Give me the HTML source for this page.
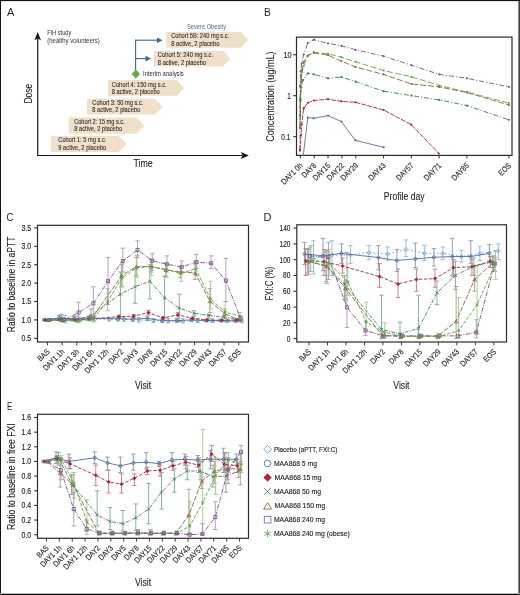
<!DOCTYPE html><html><head><meta charset="utf-8"><style>html,body{margin:0;padding:0;background:#fff;}svg{display:block;will-change:transform;}</style></head><body><svg width="520" height="595" viewBox="0 0 520 595" font-family='"Liberation Sans", sans-serif'>
<rect x="0" y="0" width="520" height="595" fill="#ffffff"/>
<text x="7.00" y="16.10" font-size="11" fill="#262626" >A</text>
<line x1="37.70" y1="155.50" x2="37.70" y2="38.00" stroke="#1a1a1a" stroke-width="1.2" />
<polygon points="37.70,32.00 41.00,40.20 37.70,38.60 34.40,40.20" fill="#1a1a1a" stroke="none" stroke-width="1" />
<line x1="37.10" y1="155.50" x2="242.50" y2="155.50" stroke="#1a1a1a" stroke-width="1.2" />
<polygon points="248.80,155.50 240.90,152.10 242.50,155.50 240.90,158.90" fill="#1a1a1a" stroke="none" stroke-width="1" />
<text x="32.20" y="103.60" font-size="10" fill="#262626" textLength="19.80" lengthAdjust="spacingAndGlyphs" transform="rotate(-90 32.20 103.60)" stroke="#262626" stroke-width="0.1">Dose</text>
<text x="133.40" y="166.90" font-size="10" fill="#262626" textLength="19.30" lengthAdjust="spacingAndGlyphs" stroke="#262626" stroke-width="0.1">Time</text>
<text x="47.30" y="34.70" font-size="6.9" fill="#333333" textLength="24.00" lengthAdjust="spacingAndGlyphs" >FiH study</text>
<text x="47.30" y="42.60" font-size="6.9" fill="#333333" textLength="52.40" lengthAdjust="spacingAndGlyphs" >(healthy volunteers)</text>
<polygon points="51.00,136.00 118.50,136.00 127.00,144.00 118.50,152.00 51.00,152.00" fill="#f1e0c9" stroke="none" stroke-width="1" />
<text x="58.30" y="142.40" font-size="6.8" fill="#303030" textLength="48.00" lengthAdjust="spacingAndGlyphs" stroke="#262626" stroke-width="0.1">Cohort 1: 5 mg s.c.</text>
<text x="58.30" y="149.60" font-size="6.8" fill="#303030" textLength="48.00" lengthAdjust="spacingAndGlyphs" stroke="#262626" stroke-width="0.1">9 active, 2 placebo</text>
<polygon points="68.60,117.60 136.80,117.60 144.30,125.70 136.80,133.80 68.60,133.80" fill="#f1e0c9" stroke="none" stroke-width="1" />
<text x="74.20" y="124.00" font-size="6.8" fill="#303030" textLength="50.50" lengthAdjust="spacingAndGlyphs" stroke="#262626" stroke-width="0.1">Cohort 2: 15 mg s.c.</text>
<text x="74.20" y="131.20" font-size="6.8" fill="#303030" textLength="48.00" lengthAdjust="spacingAndGlyphs" stroke="#262626" stroke-width="0.1">8 active, 2 placebo</text>
<polygon points="87.00,98.80 154.60,98.80 162.70,106.70 154.60,114.60 87.00,114.60" fill="#f1e0c9" stroke="none" stroke-width="1" />
<text x="92.30" y="105.20" font-size="6.8" fill="#303030" textLength="51.00" lengthAdjust="spacingAndGlyphs" stroke="#262626" stroke-width="0.1">Cohort 3: 50 mg s.c.</text>
<text x="92.30" y="112.40" font-size="6.8" fill="#303030" textLength="48.00" lengthAdjust="spacingAndGlyphs" stroke="#262626" stroke-width="0.1">8 active, 2 placebo</text>
<polygon points="108.00,80.10 176.70,80.10 184.20,87.90 176.70,95.70 108.00,95.70" fill="#f1e0c9" stroke="none" stroke-width="1" />
<text x="111.80" y="86.50" font-size="6.8" fill="#303030" textLength="54.80" lengthAdjust="spacingAndGlyphs" stroke="#262626" stroke-width="0.1">Cohort 4: 150 mg s.c.</text>
<text x="111.80" y="93.70" font-size="6.8" fill="#303030" textLength="48.00" lengthAdjust="spacingAndGlyphs" stroke="#262626" stroke-width="0.1">8 active, 2 placebo</text>
<polygon points="154.00,51.00 223.00,51.00 230.20,58.80 223.00,66.60 154.00,66.60" fill="#f1e0c9" stroke="none" stroke-width="1" />
<text x="157.80" y="57.40" font-size="6.8" fill="#303030" textLength="55.30" lengthAdjust="spacingAndGlyphs" stroke="#262626" stroke-width="0.1">Cohort 5: 240 mg s.c.</text>
<text x="157.80" y="64.60" font-size="6.8" fill="#303030" textLength="48.30" lengthAdjust="spacingAndGlyphs" stroke="#262626" stroke-width="0.1">8 active, 2 placebo</text>
<polygon points="166.20,32.00 241.00,32.00 248.20,39.85 241.00,47.70 166.20,47.70" fill="#f1e0c9" stroke="none" stroke-width="1" />
<text x="171.20" y="38.40" font-size="6.8" fill="#303030" textLength="58.00" lengthAdjust="spacingAndGlyphs" stroke="#262626" stroke-width="0.1">Cohort 5B: 240 mg s.c.</text>
<text x="171.20" y="45.60" font-size="6.8" fill="#303030" textLength="48.30" lengthAdjust="spacingAndGlyphs" stroke="#262626" stroke-width="0.1">8 active, 2 placebo</text>
<line x1="135.60" y1="70.00" x2="135.60" y2="39.70" stroke="#45638f" stroke-width="1.1" />
<line x1="135.00" y1="40.20" x2="157.50" y2="40.20" stroke="#45638f" stroke-width="1.1" />
<polygon points="162.60,40.20 157.00,37.40 157.00,43.00" fill="#45638f" stroke="none" stroke-width="1" />
<line x1="135.00" y1="58.60" x2="146.00" y2="58.60" stroke="#45638f" stroke-width="1.1" />
<polygon points="151.00,58.60 145.50,55.80 145.50,61.40" fill="#45638f" stroke="none" stroke-width="1" />
<polygon points="135.80,69.20 140.00,74.00 135.80,78.80 131.60,74.00" fill="#6aa84f" stroke="none" stroke-width="1" />
<text x="143.00" y="76.00" font-size="6.9" fill="#2e2e2e" textLength="40.80" lengthAdjust="spacingAndGlyphs" >Interim analysis</text>
<text x="187.00" y="29.20" font-size="6.9" fill="#4f6a96" textLength="39.00" lengthAdjust="spacingAndGlyphs" >Severe Obesity</text>
<text x="264.00" y="16.40" font-size="11" fill="#262626" textLength="6.80" lengthAdjust="spacingAndGlyphs" >B</text>
<rect x="296.5" y="37.1" width="215.5" height="118.30000000000001" fill="none" stroke="#2b2b2b" stroke-width="1.2"/>
<line x1="293.20" y1="54.70" x2="296.50" y2="54.70" stroke="#2b2b2b" stroke-width="1.1" />
<text x="291.60" y="57.50" font-size="8.4" fill="#262626" text-anchor="end" textLength="8.20" lengthAdjust="spacingAndGlyphs" stroke="#262626" stroke-width="0.15">10</text>
<line x1="293.20" y1="95.70" x2="296.50" y2="95.70" stroke="#2b2b2b" stroke-width="1.1" />
<text x="290.90" y="98.50" font-size="8.4" fill="#262626" text-anchor="end" textLength="3.60" lengthAdjust="spacingAndGlyphs" stroke="#262626" stroke-width="0.15">1</text>
<line x1="293.20" y1="136.70" x2="296.50" y2="136.70" stroke="#2b2b2b" stroke-width="1.1" />
<text x="290.30" y="139.50" font-size="8.4" fill="#262626" text-anchor="end" textLength="9.00" lengthAdjust="spacingAndGlyphs" stroke="#262626" stroke-width="0.15">0.1</text>
<text x="274.30" y="96.60" font-size="10" fill="#262626" text-anchor="middle" textLength="90.50" lengthAdjust="spacingAndGlyphs" transform="rotate(-90 274.30 96.60)" stroke="#262626" stroke-width="0.1">Concentration (ug/mL)</text>
<line x1="300.30" y1="155.40" x2="300.30" y2="158.40" stroke="#2b2b2b" stroke-width="1.0" />
<line x1="314.18" y1="155.40" x2="314.18" y2="158.40" stroke="#2b2b2b" stroke-width="1.0" />
<line x1="328.06" y1="155.40" x2="328.06" y2="158.40" stroke="#2b2b2b" stroke-width="1.0" />
<line x1="341.94" y1="155.40" x2="341.94" y2="158.40" stroke="#2b2b2b" stroke-width="1.0" />
<line x1="355.82" y1="155.40" x2="355.82" y2="158.40" stroke="#2b2b2b" stroke-width="1.0" />
<line x1="383.59" y1="155.40" x2="383.59" y2="158.40" stroke="#2b2b2b" stroke-width="1.0" />
<line x1="411.35" y1="155.40" x2="411.35" y2="158.40" stroke="#2b2b2b" stroke-width="1.0" />
<line x1="439.11" y1="155.40" x2="439.11" y2="158.40" stroke="#2b2b2b" stroke-width="1.0" />
<line x1="466.87" y1="155.40" x2="466.87" y2="158.40" stroke="#2b2b2b" stroke-width="1.0" />
<line x1="508.91" y1="155.40" x2="508.91" y2="158.40" stroke="#2b2b2b" stroke-width="1.0" />
<text x="303.10" y="166.20" font-size="8.0" fill="#262626" text-anchor="end" textLength="26.55" lengthAdjust="spacingAndGlyphs" transform="rotate(-45 303.10 166.20)" stroke="#262626" stroke-width="0.15">DAY1 0h</text>
<text x="316.98" y="166.20" font-size="8.0" fill="#262626" text-anchor="end" textLength="17.16" lengthAdjust="spacingAndGlyphs" transform="rotate(-45 316.98 166.20)" stroke="#262626" stroke-width="0.15">DAY8</text>
<text x="330.86" y="166.20" font-size="8.0" fill="#262626" text-anchor="end" textLength="20.92" lengthAdjust="spacingAndGlyphs" transform="rotate(-45 330.86 166.20)" stroke="#262626" stroke-width="0.15">DAY15</text>
<text x="344.74" y="166.20" font-size="8.0" fill="#262626" text-anchor="end" textLength="20.92" lengthAdjust="spacingAndGlyphs" transform="rotate(-45 344.74 166.20)" stroke="#262626" stroke-width="0.15">DAY22</text>
<text x="358.62" y="166.20" font-size="8.0" fill="#262626" text-anchor="end" textLength="20.92" lengthAdjust="spacingAndGlyphs" transform="rotate(-45 358.62 166.20)" stroke="#262626" stroke-width="0.15">DAY29</text>
<text x="386.39" y="166.20" font-size="8.0" fill="#262626" text-anchor="end" textLength="20.92" lengthAdjust="spacingAndGlyphs" transform="rotate(-45 386.39 166.20)" stroke="#262626" stroke-width="0.15">DAY43</text>
<text x="414.15" y="166.20" font-size="8.0" fill="#262626" text-anchor="end" textLength="20.92" lengthAdjust="spacingAndGlyphs" transform="rotate(-45 414.15 166.20)" stroke="#262626" stroke-width="0.15">DAY57</text>
<text x="441.91" y="166.20" font-size="8.0" fill="#262626" text-anchor="end" textLength="20.92" lengthAdjust="spacingAndGlyphs" transform="rotate(-45 441.91 166.20)" stroke="#262626" stroke-width="0.15">DAY71</text>
<text x="469.67" y="166.20" font-size="8.0" fill="#262626" text-anchor="end" textLength="20.92" lengthAdjust="spacingAndGlyphs" transform="rotate(-45 469.67 166.20)" stroke="#262626" stroke-width="0.15">DAY85</text>
<text x="511.71" y="166.20" font-size="8.0" fill="#262626" text-anchor="end" textLength="14.28" lengthAdjust="spacingAndGlyphs" transform="rotate(-45 511.71 166.20)" stroke="#262626" stroke-width="0.15">EOS</text>
<text x="383.80" y="199.90" font-size="10" fill="#262626" textLength="40.80" lengthAdjust="spacingAndGlyphs" stroke="#262626" stroke-width="0.1">Profile day</text>
<polyline points="299.90,150.00 300.10,86.10 300.60,71.30 301.70,63.30 303.70,54.50 307.80,43.00 313.80,39.70 328.00,43.30 341.40,45.80 355.60,49.80 383.50,56.10 411.50,65.30 439.30,74.40 467.00,78.30 508.80,86.90" fill="none" stroke="#7a5585" stroke-width="0.9" stroke-dasharray="5,2,1.2,2" stroke-linejoin="round" />
<circle cx="299.90" cy="150.00" r="1.10" fill="#7a5585"/>
<circle cx="300.10" cy="86.10" r="1.10" fill="#7a5585"/>
<circle cx="300.60" cy="71.30" r="1.10" fill="#7a5585"/>
<circle cx="301.70" cy="63.30" r="1.10" fill="#7a5585"/>
<circle cx="303.70" cy="54.50" r="1.10" fill="#7a5585"/>
<circle cx="307.80" cy="43.00" r="1.10" fill="#7a5585"/>
<circle cx="313.80" cy="39.70" r="1.10" fill="#7a5585"/>
<circle cx="328.00" cy="43.30" r="1.10" fill="#7a5585"/>
<circle cx="341.40" cy="45.80" r="1.10" fill="#7a5585"/>
<circle cx="355.60" cy="49.80" r="1.10" fill="#7a5585"/>
<circle cx="383.50" cy="56.10" r="1.10" fill="#7a5585"/>
<circle cx="411.50" cy="65.30" r="1.10" fill="#7a5585"/>
<circle cx="439.30" cy="74.40" r="1.10" fill="#7a5585"/>
<circle cx="467.00" cy="78.30" r="1.10" fill="#7a5585"/>
<circle cx="508.80" cy="86.90" r="1.10" fill="#7a5585"/>
<polyline points="300.10,125.00 300.40,98.30 301.20,80.00 302.00,72.00 303.70,66.00 307.80,55.90 313.80,52.20 328.00,53.80 341.40,57.20 355.60,61.80 383.50,70.50 411.50,76.90 439.30,85.50 467.00,92.10 508.80,103.00" fill="none" stroke="#5fa83c" stroke-width="0.9" stroke-dasharray="6,2.5" stroke-linejoin="round" />
<circle cx="300.10" cy="125.00" r="1.10" fill="#5fa83c"/>
<circle cx="300.40" cy="98.30" r="1.10" fill="#5fa83c"/>
<circle cx="301.20" cy="80.00" r="1.10" fill="#5fa83c"/>
<circle cx="302.00" cy="72.00" r="1.10" fill="#5fa83c"/>
<circle cx="303.70" cy="66.00" r="1.10" fill="#5fa83c"/>
<circle cx="307.80" cy="55.90" r="1.10" fill="#5fa83c"/>
<circle cx="313.80" cy="52.20" r="1.10" fill="#5fa83c"/>
<circle cx="328.00" cy="53.80" r="1.10" fill="#5fa83c"/>
<circle cx="341.40" cy="57.20" r="1.10" fill="#5fa83c"/>
<circle cx="355.60" cy="61.80" r="1.10" fill="#5fa83c"/>
<circle cx="383.50" cy="70.50" r="1.10" fill="#5fa83c"/>
<circle cx="411.50" cy="76.90" r="1.10" fill="#5fa83c"/>
<circle cx="439.30" cy="85.50" r="1.10" fill="#5fa83c"/>
<circle cx="467.00" cy="92.10" r="1.10" fill="#5fa83c"/>
<circle cx="508.80" cy="103.00" r="1.10" fill="#5fa83c"/>
<polyline points="300.20,128.00 300.30,100.00 301.00,82.00 302.00,70.00 303.70,62.00 307.80,55.50 313.80,52.90 328.00,55.20 341.40,61.20 355.60,67.00 383.50,74.40 411.50,84.00 439.30,86.90 467.00,92.50 508.80,105.00" fill="none" stroke="#8a6646" stroke-width="0.9" stroke-dasharray="6,2" stroke-linejoin="round" />
<circle cx="300.20" cy="128.00" r="1.10" fill="#8a6646"/>
<circle cx="300.30" cy="100.00" r="1.10" fill="#8a6646"/>
<circle cx="301.00" cy="82.00" r="1.10" fill="#8a6646"/>
<circle cx="302.00" cy="70.00" r="1.10" fill="#8a6646"/>
<circle cx="303.70" cy="62.00" r="1.10" fill="#8a6646"/>
<circle cx="307.80" cy="55.50" r="1.10" fill="#8a6646"/>
<circle cx="313.80" cy="52.90" r="1.10" fill="#8a6646"/>
<circle cx="328.00" cy="55.20" r="1.10" fill="#8a6646"/>
<circle cx="341.40" cy="61.20" r="1.10" fill="#8a6646"/>
<circle cx="355.60" cy="67.00" r="1.10" fill="#8a6646"/>
<circle cx="383.50" cy="74.40" r="1.10" fill="#8a6646"/>
<circle cx="411.50" cy="84.00" r="1.10" fill="#8a6646"/>
<circle cx="439.30" cy="86.90" r="1.10" fill="#8a6646"/>
<circle cx="467.00" cy="92.50" r="1.10" fill="#8a6646"/>
<circle cx="508.80" cy="105.00" r="1.10" fill="#8a6646"/>
<polyline points="300.20,115.00 300.60,100.00 301.20,87.50 303.00,80.00 307.80,73.40 313.80,74.30 328.00,78.30 341.40,77.00 355.60,81.70 383.50,91.20 411.50,95.60 439.30,99.90 467.00,105.60 508.80,119.80" fill="none" stroke="#3e7a5c" stroke-width="0.9" stroke-dasharray="5,2,1.2,2" stroke-linejoin="round" />
<circle cx="300.20" cy="115.00" r="1.10" fill="#3e7a5c"/>
<circle cx="300.60" cy="100.00" r="1.10" fill="#3e7a5c"/>
<circle cx="301.20" cy="87.50" r="1.10" fill="#3e7a5c"/>
<circle cx="303.00" cy="80.00" r="1.10" fill="#3e7a5c"/>
<circle cx="307.80" cy="73.40" r="1.10" fill="#3e7a5c"/>
<circle cx="313.80" cy="74.30" r="1.10" fill="#3e7a5c"/>
<circle cx="328.00" cy="78.30" r="1.10" fill="#3e7a5c"/>
<circle cx="341.40" cy="77.00" r="1.10" fill="#3e7a5c"/>
<circle cx="355.60" cy="81.70" r="1.10" fill="#3e7a5c"/>
<circle cx="383.50" cy="91.20" r="1.10" fill="#3e7a5c"/>
<circle cx="411.50" cy="95.60" r="1.10" fill="#3e7a5c"/>
<circle cx="439.30" cy="99.90" r="1.10" fill="#3e7a5c"/>
<circle cx="467.00" cy="105.60" r="1.10" fill="#3e7a5c"/>
<circle cx="508.80" cy="119.80" r="1.10" fill="#3e7a5c"/>
<polyline points="300.10,150.60 301.00,135.00 301.70,124.30 303.70,108.20 307.80,102.80 313.80,100.50 328.00,99.20 341.40,101.40 355.40,102.30 383.70,110.00 411.20,124.60 438.80,153.50" fill="none" stroke="#a3283f" stroke-width="0.9" stroke-dasharray="5,1.1" stroke-linejoin="round" />
<circle cx="300.10" cy="150.60" r="1.10" fill="#a3283f"/>
<circle cx="301.00" cy="135.00" r="1.10" fill="#a3283f"/>
<circle cx="301.70" cy="124.30" r="1.10" fill="#a3283f"/>
<circle cx="303.70" cy="108.20" r="1.10" fill="#a3283f"/>
<circle cx="307.80" cy="102.80" r="1.10" fill="#a3283f"/>
<circle cx="313.80" cy="100.50" r="1.10" fill="#a3283f"/>
<circle cx="328.00" cy="99.20" r="1.10" fill="#a3283f"/>
<circle cx="341.40" cy="101.40" r="1.10" fill="#a3283f"/>
<circle cx="355.40" cy="102.30" r="1.10" fill="#a3283f"/>
<circle cx="383.70" cy="110.00" r="1.10" fill="#a3283f"/>
<circle cx="411.20" cy="124.60" r="1.10" fill="#a3283f"/>
<circle cx="438.80" cy="153.50" r="1.10" fill="#a3283f"/>
<polyline points="303.30,155.30 307.80,117.60 313.80,118.30 328.00,115.60 341.40,121.60 355.40,140.40 383.70,147.30" fill="none" stroke="#526b96" stroke-width="0.85" stroke-linejoin="round" />
<circle cx="303.30" cy="155.30" r="1.10" fill="#526b96"/>
<circle cx="307.80" cy="117.60" r="1.10" fill="#526b96"/>
<circle cx="313.80" cy="118.30" r="1.10" fill="#526b96"/>
<circle cx="328.00" cy="115.60" r="1.10" fill="#526b96"/>
<circle cx="341.40" cy="121.60" r="1.10" fill="#526b96"/>
<circle cx="355.40" cy="140.40" r="1.10" fill="#526b96"/>
<circle cx="383.70" cy="147.30" r="1.10" fill="#526b96"/>
<text x="6.60" y="220.90" font-size="11" fill="#262626" textLength="6.90" lengthAdjust="spacingAndGlyphs" >C</text>
<rect x="37.5" y="225.3" width="211.0" height="116.69999999999999" fill="none" stroke="#2b2b2b" stroke-width="1.2"/>
<line x1="34.20" y1="227.90" x2="37.50" y2="227.90" stroke="#2b2b2b" stroke-width="1.1" />
<text x="31.20" y="230.80" font-size="8.6" fill="#262626" text-anchor="end" textLength="9.70" lengthAdjust="spacingAndGlyphs" stroke="#262626" stroke-width="0.15">3.5</text>
<line x1="34.20" y1="246.30" x2="37.50" y2="246.30" stroke="#2b2b2b" stroke-width="1.1" />
<text x="31.20" y="249.20" font-size="8.6" fill="#262626" text-anchor="end" textLength="9.70" lengthAdjust="spacingAndGlyphs" stroke="#262626" stroke-width="0.15">3.0</text>
<line x1="34.20" y1="264.70" x2="37.50" y2="264.70" stroke="#2b2b2b" stroke-width="1.1" />
<text x="31.20" y="267.60" font-size="8.6" fill="#262626" text-anchor="end" textLength="9.70" lengthAdjust="spacingAndGlyphs" stroke="#262626" stroke-width="0.15">2.5</text>
<line x1="34.20" y1="283.10" x2="37.50" y2="283.10" stroke="#2b2b2b" stroke-width="1.1" />
<text x="31.20" y="286.00" font-size="8.6" fill="#262626" text-anchor="end" textLength="9.70" lengthAdjust="spacingAndGlyphs" stroke="#262626" stroke-width="0.15">2.0</text>
<line x1="34.20" y1="301.50" x2="37.50" y2="301.50" stroke="#2b2b2b" stroke-width="1.1" />
<text x="31.20" y="304.40" font-size="8.6" fill="#262626" text-anchor="end" textLength="9.70" lengthAdjust="spacingAndGlyphs" stroke="#262626" stroke-width="0.15">1.5</text>
<line x1="34.20" y1="319.90" x2="37.50" y2="319.90" stroke="#2b2b2b" stroke-width="1.1" />
<text x="31.20" y="322.80" font-size="8.6" fill="#262626" text-anchor="end" textLength="9.70" lengthAdjust="spacingAndGlyphs" stroke="#262626" stroke-width="0.15">1.0</text>
<line x1="34.20" y1="338.30" x2="37.50" y2="338.30" stroke="#2b2b2b" stroke-width="1.1" />
<text x="31.20" y="341.20" font-size="8.6" fill="#262626" text-anchor="end" textLength="9.70" lengthAdjust="spacingAndGlyphs" stroke="#262626" stroke-width="0.15">0.5</text>
<line x1="47.40" y1="342.00" x2="47.40" y2="345.40" stroke="#2b2b2b" stroke-width="0.9" />
<text x="50.20" y="352.30" font-size="8.0" fill="#262626" text-anchor="end" textLength="13.53" lengthAdjust="spacingAndGlyphs" transform="rotate(-45 50.20 352.30)" stroke="#262626" stroke-width="0.15">BAS</text>
<line x1="62.12" y1="342.00" x2="62.12" y2="345.40" stroke="#2b2b2b" stroke-width="0.9" />
<text x="64.92" y="352.30" font-size="8.0" fill="#262626" text-anchor="end" textLength="26.55" lengthAdjust="spacingAndGlyphs" transform="rotate(-45 64.92 352.30)" stroke="#262626" stroke-width="0.15">DAY1 1h</text>
<line x1="76.84" y1="342.00" x2="76.84" y2="345.40" stroke="#2b2b2b" stroke-width="0.9" />
<text x="79.64" y="352.30" font-size="8.0" fill="#262626" text-anchor="end" textLength="26.55" lengthAdjust="spacingAndGlyphs" transform="rotate(-45 79.64 352.30)" stroke="#262626" stroke-width="0.15">DAY1 3h</text>
<line x1="91.56" y1="342.00" x2="91.56" y2="345.40" stroke="#2b2b2b" stroke-width="0.9" />
<text x="94.36" y="352.30" font-size="8.0" fill="#262626" text-anchor="end" textLength="26.55" lengthAdjust="spacingAndGlyphs" transform="rotate(-45 94.36 352.30)" stroke="#262626" stroke-width="0.15">DAY1 6h</text>
<line x1="106.28" y1="342.00" x2="106.28" y2="345.40" stroke="#2b2b2b" stroke-width="0.9" />
<text x="109.08" y="352.30" font-size="8.0" fill="#262626" text-anchor="end" textLength="30.31" lengthAdjust="spacingAndGlyphs" transform="rotate(-45 109.08 352.30)" stroke="#262626" stroke-width="0.15">DAY1 12h</text>
<line x1="121.00" y1="342.00" x2="121.00" y2="345.40" stroke="#2b2b2b" stroke-width="0.9" />
<text x="123.80" y="352.30" font-size="8.0" fill="#262626" text-anchor="end" textLength="17.16" lengthAdjust="spacingAndGlyphs" transform="rotate(-45 123.80 352.30)" stroke="#262626" stroke-width="0.15">DAY2</text>
<line x1="135.72" y1="342.00" x2="135.72" y2="345.40" stroke="#2b2b2b" stroke-width="0.9" />
<text x="138.52" y="352.30" font-size="8.0" fill="#262626" text-anchor="end" textLength="17.16" lengthAdjust="spacingAndGlyphs" transform="rotate(-45 138.52 352.30)" stroke="#262626" stroke-width="0.15">DAY3</text>
<line x1="150.44" y1="342.00" x2="150.44" y2="345.40" stroke="#2b2b2b" stroke-width="0.9" />
<text x="153.24" y="352.30" font-size="8.0" fill="#262626" text-anchor="end" textLength="17.16" lengthAdjust="spacingAndGlyphs" transform="rotate(-45 153.24 352.30)" stroke="#262626" stroke-width="0.15">DAY8</text>
<line x1="165.16" y1="342.00" x2="165.16" y2="345.40" stroke="#2b2b2b" stroke-width="0.9" />
<text x="167.96" y="352.30" font-size="8.0" fill="#262626" text-anchor="end" textLength="20.92" lengthAdjust="spacingAndGlyphs" transform="rotate(-45 167.96 352.30)" stroke="#262626" stroke-width="0.15">DAY15</text>
<line x1="179.88" y1="342.00" x2="179.88" y2="345.40" stroke="#2b2b2b" stroke-width="0.9" />
<text x="182.68" y="352.30" font-size="8.0" fill="#262626" text-anchor="end" textLength="20.92" lengthAdjust="spacingAndGlyphs" transform="rotate(-45 182.68 352.30)" stroke="#262626" stroke-width="0.15">DAY22</text>
<line x1="194.60" y1="342.00" x2="194.60" y2="345.40" stroke="#2b2b2b" stroke-width="0.9" />
<text x="197.40" y="352.30" font-size="8.0" fill="#262626" text-anchor="end" textLength="20.92" lengthAdjust="spacingAndGlyphs" transform="rotate(-45 197.40 352.30)" stroke="#262626" stroke-width="0.15">DAY29</text>
<line x1="209.32" y1="342.00" x2="209.32" y2="345.40" stroke="#2b2b2b" stroke-width="0.9" />
<text x="212.12" y="352.30" font-size="8.0" fill="#262626" text-anchor="end" textLength="20.92" lengthAdjust="spacingAndGlyphs" transform="rotate(-45 212.12 352.30)" stroke="#262626" stroke-width="0.15">DAY43</text>
<line x1="224.04" y1="342.00" x2="224.04" y2="345.40" stroke="#2b2b2b" stroke-width="0.9" />
<text x="226.84" y="352.30" font-size="8.0" fill="#262626" text-anchor="end" textLength="20.92" lengthAdjust="spacingAndGlyphs" transform="rotate(-45 226.84 352.30)" stroke="#262626" stroke-width="0.15">DAY57</text>
<line x1="238.76" y1="342.00" x2="238.76" y2="345.40" stroke="#2b2b2b" stroke-width="0.9" />
<text x="241.56" y="352.30" font-size="8.0" fill="#262626" text-anchor="end" textLength="14.28" lengthAdjust="spacingAndGlyphs" transform="rotate(-45 241.56 352.30)" stroke="#262626" stroke-width="0.15">EOS</text>
<text x="15.30" y="284.40" font-size="10" fill="#262626" text-anchor="middle" textLength="95.60" lengthAdjust="spacingAndGlyphs" transform="rotate(-90 15.30 284.40)" stroke="#262626" stroke-width="0.1">Ratio to baseline in aPTT</text>
<text x="134.90" y="388.80" font-size="10" fill="#262626" textLength="16.20" lengthAdjust="spacingAndGlyphs" stroke="#262626" stroke-width="0.1">Visit</text>
<line x1="50.40" y1="320.64" x2="50.40" y2="319.16" stroke="#8db8e0" stroke-width="0.9" />
<line x1="48.20" y1="320.64" x2="52.60" y2="320.64" stroke="#8db8e0" stroke-width="0.9" />
<line x1="48.20" y1="319.16" x2="52.60" y2="319.16" stroke="#8db8e0" stroke-width="0.9" />
<line x1="65.12" y1="322.84" x2="65.12" y2="315.48" stroke="#8db8e0" stroke-width="0.9" />
<line x1="62.92" y1="322.84" x2="67.32" y2="322.84" stroke="#8db8e0" stroke-width="0.9" />
<line x1="62.92" y1="315.48" x2="67.32" y2="315.48" stroke="#8db8e0" stroke-width="0.9" />
<line x1="79.84" y1="321.74" x2="79.84" y2="316.96" stroke="#8db8e0" stroke-width="0.9" />
<line x1="77.64" y1="321.74" x2="82.04" y2="321.74" stroke="#8db8e0" stroke-width="0.9" />
<line x1="77.64" y1="316.96" x2="82.04" y2="316.96" stroke="#8db8e0" stroke-width="0.9" />
<line x1="94.56" y1="321.74" x2="94.56" y2="316.96" stroke="#8db8e0" stroke-width="0.9" />
<line x1="92.36" y1="321.74" x2="96.76" y2="321.74" stroke="#8db8e0" stroke-width="0.9" />
<line x1="92.36" y1="316.96" x2="96.76" y2="316.96" stroke="#8db8e0" stroke-width="0.9" />
<line x1="109.28" y1="321.00" x2="109.28" y2="317.32" stroke="#8db8e0" stroke-width="0.9" />
<line x1="107.08" y1="321.00" x2="111.48" y2="321.00" stroke="#8db8e0" stroke-width="0.9" />
<line x1="107.08" y1="317.32" x2="111.48" y2="317.32" stroke="#8db8e0" stroke-width="0.9" />
<line x1="124.00" y1="321.37" x2="124.00" y2="316.96" stroke="#8db8e0" stroke-width="0.9" />
<line x1="121.80" y1="321.37" x2="126.20" y2="321.37" stroke="#8db8e0" stroke-width="0.9" />
<line x1="121.80" y1="316.96" x2="126.20" y2="316.96" stroke="#8db8e0" stroke-width="0.9" />
<line x1="138.72" y1="322.11" x2="138.72" y2="317.69" stroke="#8db8e0" stroke-width="0.9" />
<line x1="136.52" y1="322.11" x2="140.92" y2="322.11" stroke="#8db8e0" stroke-width="0.9" />
<line x1="136.52" y1="317.69" x2="140.92" y2="317.69" stroke="#8db8e0" stroke-width="0.9" />
<line x1="153.44" y1="322.48" x2="153.44" y2="318.43" stroke="#8db8e0" stroke-width="0.9" />
<line x1="151.24" y1="322.48" x2="155.64" y2="322.48" stroke="#8db8e0" stroke-width="0.9" />
<line x1="151.24" y1="318.43" x2="155.64" y2="318.43" stroke="#8db8e0" stroke-width="0.9" />
<line x1="168.16" y1="322.84" x2="168.16" y2="318.43" stroke="#8db8e0" stroke-width="0.9" />
<line x1="165.96" y1="322.84" x2="170.36" y2="322.84" stroke="#8db8e0" stroke-width="0.9" />
<line x1="165.96" y1="318.43" x2="170.36" y2="318.43" stroke="#8db8e0" stroke-width="0.9" />
<line x1="182.88" y1="322.84" x2="182.88" y2="318.43" stroke="#8db8e0" stroke-width="0.9" />
<line x1="180.68" y1="322.84" x2="185.08" y2="322.84" stroke="#8db8e0" stroke-width="0.9" />
<line x1="180.68" y1="318.43" x2="185.08" y2="318.43" stroke="#8db8e0" stroke-width="0.9" />
<line x1="197.60" y1="322.48" x2="197.60" y2="318.43" stroke="#8db8e0" stroke-width="0.9" />
<line x1="195.40" y1="322.48" x2="199.80" y2="322.48" stroke="#8db8e0" stroke-width="0.9" />
<line x1="195.40" y1="318.43" x2="199.80" y2="318.43" stroke="#8db8e0" stroke-width="0.9" />
<line x1="212.32" y1="322.48" x2="212.32" y2="318.80" stroke="#8db8e0" stroke-width="0.9" />
<line x1="210.12" y1="322.48" x2="214.52" y2="322.48" stroke="#8db8e0" stroke-width="0.9" />
<line x1="210.12" y1="318.80" x2="214.52" y2="318.80" stroke="#8db8e0" stroke-width="0.9" />
<line x1="227.04" y1="322.48" x2="227.04" y2="318.80" stroke="#8db8e0" stroke-width="0.9" />
<line x1="224.84" y1="322.48" x2="229.24" y2="322.48" stroke="#8db8e0" stroke-width="0.9" />
<line x1="224.84" y1="318.80" x2="229.24" y2="318.80" stroke="#8db8e0" stroke-width="0.9" />
<line x1="241.76" y1="322.84" x2="241.76" y2="318.80" stroke="#8db8e0" stroke-width="0.9" />
<line x1="239.56" y1="322.84" x2="243.96" y2="322.84" stroke="#8db8e0" stroke-width="0.9" />
<line x1="239.56" y1="318.80" x2="243.96" y2="318.80" stroke="#8db8e0" stroke-width="0.9" />
<line x1="44.40" y1="320.64" x2="44.40" y2="319.16" stroke="#8096b8" stroke-width="0.9" />
<line x1="42.20" y1="320.64" x2="46.60" y2="320.64" stroke="#8096b8" stroke-width="0.9" />
<line x1="42.20" y1="319.16" x2="46.60" y2="319.16" stroke="#8096b8" stroke-width="0.9" />
<line x1="59.12" y1="320.64" x2="59.12" y2="315.48" stroke="#8096b8" stroke-width="0.9" />
<line x1="56.92" y1="320.64" x2="61.32" y2="320.64" stroke="#8096b8" stroke-width="0.9" />
<line x1="56.92" y1="315.48" x2="61.32" y2="315.48" stroke="#8096b8" stroke-width="0.9" />
<line x1="73.84" y1="321.00" x2="73.84" y2="316.22" stroke="#8096b8" stroke-width="0.9" />
<line x1="71.64" y1="321.00" x2="76.04" y2="321.00" stroke="#8096b8" stroke-width="0.9" />
<line x1="71.64" y1="316.22" x2="76.04" y2="316.22" stroke="#8096b8" stroke-width="0.9" />
<line x1="88.56" y1="320.64" x2="88.56" y2="316.22" stroke="#8096b8" stroke-width="0.9" />
<line x1="86.36" y1="320.64" x2="90.76" y2="320.64" stroke="#8096b8" stroke-width="0.9" />
<line x1="86.36" y1="316.22" x2="90.76" y2="316.22" stroke="#8096b8" stroke-width="0.9" />
<line x1="118.00" y1="321.00" x2="118.00" y2="316.96" stroke="#8096b8" stroke-width="0.9" />
<line x1="115.80" y1="321.00" x2="120.20" y2="321.00" stroke="#8096b8" stroke-width="0.9" />
<line x1="115.80" y1="316.96" x2="120.20" y2="316.96" stroke="#8096b8" stroke-width="0.9" />
<line x1="132.72" y1="321.37" x2="132.72" y2="316.96" stroke="#8096b8" stroke-width="0.9" />
<line x1="130.52" y1="321.37" x2="134.92" y2="321.37" stroke="#8096b8" stroke-width="0.9" />
<line x1="130.52" y1="316.96" x2="134.92" y2="316.96" stroke="#8096b8" stroke-width="0.9" />
<line x1="147.44" y1="320.64" x2="147.44" y2="316.22" stroke="#8096b8" stroke-width="0.9" />
<line x1="145.24" y1="320.64" x2="149.64" y2="320.64" stroke="#8096b8" stroke-width="0.9" />
<line x1="145.24" y1="316.22" x2="149.64" y2="316.22" stroke="#8096b8" stroke-width="0.9" />
<line x1="162.16" y1="322.48" x2="162.16" y2="318.80" stroke="#8096b8" stroke-width="0.9" />
<line x1="159.96" y1="322.48" x2="164.36" y2="322.48" stroke="#8096b8" stroke-width="0.9" />
<line x1="159.96" y1="318.80" x2="164.36" y2="318.80" stroke="#8096b8" stroke-width="0.9" />
<line x1="176.88" y1="322.11" x2="176.88" y2="318.80" stroke="#8096b8" stroke-width="0.9" />
<line x1="174.68" y1="322.11" x2="179.08" y2="322.11" stroke="#8096b8" stroke-width="0.9" />
<line x1="174.68" y1="318.80" x2="179.08" y2="318.80" stroke="#8096b8" stroke-width="0.9" />
<line x1="191.60" y1="321.37" x2="191.60" y2="318.43" stroke="#8096b8" stroke-width="0.9" />
<line x1="189.40" y1="321.37" x2="193.80" y2="321.37" stroke="#8096b8" stroke-width="0.9" />
<line x1="189.40" y1="318.43" x2="193.80" y2="318.43" stroke="#8096b8" stroke-width="0.9" />
<line x1="206.32" y1="321.74" x2="206.32" y2="319.16" stroke="#8096b8" stroke-width="0.9" />
<line x1="204.12" y1="321.74" x2="208.52" y2="321.74" stroke="#8096b8" stroke-width="0.9" />
<line x1="204.12" y1="319.16" x2="208.52" y2="319.16" stroke="#8096b8" stroke-width="0.9" />
<line x1="221.04" y1="321.74" x2="221.04" y2="319.16" stroke="#8096b8" stroke-width="0.9" />
<line x1="218.84" y1="321.74" x2="223.24" y2="321.74" stroke="#8096b8" stroke-width="0.9" />
<line x1="218.84" y1="319.16" x2="223.24" y2="319.16" stroke="#8096b8" stroke-width="0.9" />
<line x1="235.76" y1="321.74" x2="235.76" y2="319.90" stroke="#8096b8" stroke-width="0.9" />
<line x1="233.56" y1="321.74" x2="237.96" y2="321.74" stroke="#8096b8" stroke-width="0.9" />
<line x1="233.56" y1="319.90" x2="237.96" y2="319.90" stroke="#8096b8" stroke-width="0.9" />
<line x1="119.00" y1="318.06" x2="119.00" y2="315.12" stroke="#c87585" stroke-width="0.9" />
<line x1="116.80" y1="318.06" x2="121.20" y2="318.06" stroke="#c87585" stroke-width="0.9" />
<line x1="116.80" y1="315.12" x2="121.20" y2="315.12" stroke="#c87585" stroke-width="0.9" />
<line x1="133.72" y1="318.06" x2="133.72" y2="314.38" stroke="#c87585" stroke-width="0.9" />
<line x1="131.52" y1="318.06" x2="135.92" y2="318.06" stroke="#c87585" stroke-width="0.9" />
<line x1="131.52" y1="314.38" x2="135.92" y2="314.38" stroke="#c87585" stroke-width="0.9" />
<line x1="148.44" y1="314.75" x2="148.44" y2="310.33" stroke="#c87585" stroke-width="0.9" />
<line x1="146.24" y1="314.75" x2="150.64" y2="314.75" stroke="#c87585" stroke-width="0.9" />
<line x1="146.24" y1="310.33" x2="150.64" y2="310.33" stroke="#c87585" stroke-width="0.9" />
<line x1="163.16" y1="319.53" x2="163.16" y2="316.59" stroke="#c87585" stroke-width="0.9" />
<line x1="160.96" y1="319.53" x2="165.36" y2="319.53" stroke="#c87585" stroke-width="0.9" />
<line x1="160.96" y1="316.59" x2="165.36" y2="316.59" stroke="#c87585" stroke-width="0.9" />
<line x1="177.88" y1="316.96" x2="177.88" y2="312.54" stroke="#c87585" stroke-width="0.9" />
<line x1="175.68" y1="316.96" x2="180.08" y2="316.96" stroke="#c87585" stroke-width="0.9" />
<line x1="175.68" y1="312.54" x2="180.08" y2="312.54" stroke="#c87585" stroke-width="0.9" />
<line x1="192.60" y1="319.53" x2="192.60" y2="317.32" stroke="#c87585" stroke-width="0.9" />
<line x1="190.40" y1="319.53" x2="194.80" y2="319.53" stroke="#c87585" stroke-width="0.9" />
<line x1="190.40" y1="317.32" x2="194.80" y2="317.32" stroke="#c87585" stroke-width="0.9" />
<line x1="61.52" y1="320.64" x2="61.52" y2="314.38" stroke="#7fa691" stroke-width="0.9" />
<line x1="59.32" y1="320.64" x2="63.72" y2="320.64" stroke="#7fa691" stroke-width="0.9" />
<line x1="59.32" y1="314.38" x2="63.72" y2="314.38" stroke="#7fa691" stroke-width="0.9" />
<line x1="76.24" y1="321.74" x2="76.24" y2="316.22" stroke="#7fa691" stroke-width="0.9" />
<line x1="74.04" y1="321.74" x2="78.44" y2="321.74" stroke="#7fa691" stroke-width="0.9" />
<line x1="74.04" y1="316.22" x2="78.44" y2="316.22" stroke="#7fa691" stroke-width="0.9" />
<line x1="90.96" y1="319.16" x2="90.96" y2="308.86" stroke="#7fa691" stroke-width="0.9" />
<line x1="88.76" y1="319.16" x2="93.16" y2="319.16" stroke="#7fa691" stroke-width="0.9" />
<line x1="88.76" y1="308.86" x2="93.16" y2="308.86" stroke="#7fa691" stroke-width="0.9" />
<line x1="120.40" y1="318.06" x2="120.40" y2="272.06" stroke="#7fa691" stroke-width="0.9" />
<line x1="118.20" y1="318.06" x2="122.60" y2="318.06" stroke="#7fa691" stroke-width="0.9" />
<line x1="118.20" y1="272.06" x2="122.60" y2="272.06" stroke="#7fa691" stroke-width="0.9" />
<line x1="135.12" y1="303.34" x2="135.12" y2="269.12" stroke="#7fa691" stroke-width="0.9" />
<line x1="132.92" y1="303.34" x2="137.32" y2="303.34" stroke="#7fa691" stroke-width="0.9" />
<line x1="132.92" y1="269.12" x2="137.32" y2="269.12" stroke="#7fa691" stroke-width="0.9" />
<line x1="149.84" y1="298.92" x2="149.84" y2="264.70" stroke="#7fa691" stroke-width="0.9" />
<line x1="147.64" y1="298.92" x2="152.04" y2="298.92" stroke="#7fa691" stroke-width="0.9" />
<line x1="147.64" y1="264.70" x2="152.04" y2="264.70" stroke="#7fa691" stroke-width="0.9" />
<line x1="164.56" y1="317.69" x2="164.56" y2="276.48" stroke="#7fa691" stroke-width="0.9" />
<line x1="162.36" y1="317.69" x2="166.76" y2="317.69" stroke="#7fa691" stroke-width="0.9" />
<line x1="162.36" y1="276.48" x2="166.76" y2="276.48" stroke="#7fa691" stroke-width="0.9" />
<line x1="179.28" y1="321.74" x2="179.28" y2="294.14" stroke="#7fa691" stroke-width="0.9" />
<line x1="177.08" y1="321.74" x2="181.48" y2="321.74" stroke="#7fa691" stroke-width="0.9" />
<line x1="177.08" y1="294.14" x2="181.48" y2="294.14" stroke="#7fa691" stroke-width="0.9" />
<line x1="194.00" y1="316.22" x2="194.00" y2="310.70" stroke="#7fa691" stroke-width="0.9" />
<line x1="191.80" y1="316.22" x2="196.20" y2="316.22" stroke="#7fa691" stroke-width="0.9" />
<line x1="191.80" y1="310.70" x2="196.20" y2="310.70" stroke="#7fa691" stroke-width="0.9" />
<line x1="208.72" y1="318.06" x2="208.72" y2="314.38" stroke="#7fa691" stroke-width="0.9" />
<line x1="206.52" y1="318.06" x2="210.92" y2="318.06" stroke="#7fa691" stroke-width="0.9" />
<line x1="206.52" y1="314.38" x2="210.92" y2="314.38" stroke="#7fa691" stroke-width="0.9" />
<line x1="121.60" y1="286.78" x2="121.60" y2="264.70" stroke="#b39a82" stroke-width="0.9" />
<line x1="119.40" y1="286.78" x2="123.80" y2="286.78" stroke="#b39a82" stroke-width="0.9" />
<line x1="119.40" y1="264.70" x2="123.80" y2="264.70" stroke="#b39a82" stroke-width="0.9" />
<line x1="136.32" y1="275.74" x2="136.32" y2="257.34" stroke="#b39a82" stroke-width="0.9" />
<line x1="134.12" y1="275.74" x2="138.52" y2="275.74" stroke="#b39a82" stroke-width="0.9" />
<line x1="134.12" y1="257.34" x2="138.52" y2="257.34" stroke="#b39a82" stroke-width="0.9" />
<line x1="151.04" y1="272.06" x2="151.04" y2="259.18" stroke="#b39a82" stroke-width="0.9" />
<line x1="148.84" y1="272.06" x2="153.24" y2="272.06" stroke="#b39a82" stroke-width="0.9" />
<line x1="148.84" y1="259.18" x2="153.24" y2="259.18" stroke="#b39a82" stroke-width="0.9" />
<line x1="165.76" y1="275.74" x2="165.76" y2="262.86" stroke="#b39a82" stroke-width="0.9" />
<line x1="163.56" y1="275.74" x2="167.96" y2="275.74" stroke="#b39a82" stroke-width="0.9" />
<line x1="163.56" y1="262.86" x2="167.96" y2="262.86" stroke="#b39a82" stroke-width="0.9" />
<line x1="180.48" y1="277.58" x2="180.48" y2="266.54" stroke="#b39a82" stroke-width="0.9" />
<line x1="178.28" y1="277.58" x2="182.68" y2="277.58" stroke="#b39a82" stroke-width="0.9" />
<line x1="178.28" y1="266.54" x2="182.68" y2="266.54" stroke="#b39a82" stroke-width="0.9" />
<line x1="195.20" y1="279.42" x2="195.20" y2="264.70" stroke="#b39a82" stroke-width="0.9" />
<line x1="193.00" y1="279.42" x2="197.40" y2="279.42" stroke="#b39a82" stroke-width="0.9" />
<line x1="193.00" y1="264.70" x2="197.40" y2="264.70" stroke="#b39a82" stroke-width="0.9" />
<line x1="209.92" y1="312.54" x2="209.92" y2="288.62" stroke="#b39a82" stroke-width="0.9" />
<line x1="207.72" y1="312.54" x2="212.12" y2="312.54" stroke="#b39a82" stroke-width="0.9" />
<line x1="207.72" y1="288.62" x2="212.12" y2="288.62" stroke="#b39a82" stroke-width="0.9" />
<line x1="224.64" y1="318.06" x2="224.64" y2="308.86" stroke="#b39a82" stroke-width="0.9" />
<line x1="222.44" y1="318.06" x2="226.84" y2="318.06" stroke="#b39a82" stroke-width="0.9" />
<line x1="222.44" y1="308.86" x2="226.84" y2="308.86" stroke="#b39a82" stroke-width="0.9" />
<line x1="63.32" y1="322.48" x2="63.32" y2="318.06" stroke="#9ccb82" stroke-width="0.9" />
<line x1="61.12" y1="322.48" x2="65.52" y2="322.48" stroke="#9ccb82" stroke-width="0.9" />
<line x1="61.12" y1="318.06" x2="65.52" y2="318.06" stroke="#9ccb82" stroke-width="0.9" />
<line x1="78.04" y1="322.84" x2="78.04" y2="318.80" stroke="#9ccb82" stroke-width="0.9" />
<line x1="75.84" y1="322.84" x2="80.24" y2="322.84" stroke="#9ccb82" stroke-width="0.9" />
<line x1="75.84" y1="318.80" x2="80.24" y2="318.80" stroke="#9ccb82" stroke-width="0.9" />
<line x1="92.76" y1="321.74" x2="92.76" y2="316.22" stroke="#9ccb82" stroke-width="0.9" />
<line x1="90.56" y1="321.74" x2="94.96" y2="321.74" stroke="#9ccb82" stroke-width="0.9" />
<line x1="90.56" y1="316.22" x2="94.96" y2="316.22" stroke="#9ccb82" stroke-width="0.9" />
<line x1="107.48" y1="310.70" x2="107.48" y2="288.62" stroke="#9ccb82" stroke-width="0.9" />
<line x1="105.28" y1="310.70" x2="109.68" y2="310.70" stroke="#9ccb82" stroke-width="0.9" />
<line x1="105.28" y1="288.62" x2="109.68" y2="288.62" stroke="#9ccb82" stroke-width="0.9" />
<line x1="122.20" y1="286.78" x2="122.20" y2="262.86" stroke="#9ccb82" stroke-width="0.9" />
<line x1="120.00" y1="286.78" x2="124.40" y2="286.78" stroke="#9ccb82" stroke-width="0.9" />
<line x1="120.00" y1="262.86" x2="124.40" y2="262.86" stroke="#9ccb82" stroke-width="0.9" />
<line x1="136.92" y1="277.58" x2="136.92" y2="255.50" stroke="#9ccb82" stroke-width="0.9" />
<line x1="134.72" y1="277.58" x2="139.12" y2="277.58" stroke="#9ccb82" stroke-width="0.9" />
<line x1="134.72" y1="255.50" x2="139.12" y2="255.50" stroke="#9ccb82" stroke-width="0.9" />
<line x1="151.64" y1="275.74" x2="151.64" y2="261.02" stroke="#9ccb82" stroke-width="0.9" />
<line x1="149.44" y1="275.74" x2="153.84" y2="275.74" stroke="#9ccb82" stroke-width="0.9" />
<line x1="149.44" y1="261.02" x2="153.84" y2="261.02" stroke="#9ccb82" stroke-width="0.9" />
<line x1="166.36" y1="277.58" x2="166.36" y2="262.86" stroke="#9ccb82" stroke-width="0.9" />
<line x1="164.16" y1="277.58" x2="168.56" y2="277.58" stroke="#9ccb82" stroke-width="0.9" />
<line x1="164.16" y1="262.86" x2="168.56" y2="262.86" stroke="#9ccb82" stroke-width="0.9" />
<line x1="181.08" y1="281.26" x2="181.08" y2="268.38" stroke="#9ccb82" stroke-width="0.9" />
<line x1="178.88" y1="281.26" x2="183.28" y2="281.26" stroke="#9ccb82" stroke-width="0.9" />
<line x1="178.88" y1="268.38" x2="183.28" y2="268.38" stroke="#9ccb82" stroke-width="0.9" />
<line x1="195.80" y1="275.74" x2="195.80" y2="261.02" stroke="#9ccb82" stroke-width="0.9" />
<line x1="193.60" y1="275.74" x2="198.00" y2="275.74" stroke="#9ccb82" stroke-width="0.9" />
<line x1="193.60" y1="261.02" x2="198.00" y2="261.02" stroke="#9ccb82" stroke-width="0.9" />
<line x1="210.52" y1="308.86" x2="210.52" y2="281.26" stroke="#9ccb82" stroke-width="0.9" />
<line x1="208.32" y1="308.86" x2="212.72" y2="308.86" stroke="#9ccb82" stroke-width="0.9" />
<line x1="208.32" y1="281.26" x2="212.72" y2="281.26" stroke="#9ccb82" stroke-width="0.9" />
<line x1="225.24" y1="321.74" x2="225.24" y2="301.50" stroke="#9ccb82" stroke-width="0.9" />
<line x1="223.04" y1="321.74" x2="227.44" y2="321.74" stroke="#9ccb82" stroke-width="0.9" />
<line x1="223.04" y1="301.50" x2="227.44" y2="301.50" stroke="#9ccb82" stroke-width="0.9" />
<line x1="239.96" y1="319.90" x2="239.96" y2="312.54" stroke="#9ccb82" stroke-width="0.9" />
<line x1="237.76" y1="319.90" x2="242.16" y2="319.90" stroke="#9ccb82" stroke-width="0.9" />
<line x1="237.76" y1="312.54" x2="242.16" y2="312.54" stroke="#9ccb82" stroke-width="0.9" />
<line x1="78.64" y1="319.90" x2="78.64" y2="302.24" stroke="#ae94bb" stroke-width="0.9" />
<line x1="76.44" y1="319.90" x2="80.84" y2="319.90" stroke="#ae94bb" stroke-width="0.9" />
<line x1="76.44" y1="302.24" x2="80.84" y2="302.24" stroke="#ae94bb" stroke-width="0.9" />
<line x1="93.36" y1="316.22" x2="93.36" y2="286.78" stroke="#ae94bb" stroke-width="0.9" />
<line x1="91.16" y1="316.22" x2="95.56" y2="316.22" stroke="#ae94bb" stroke-width="0.9" />
<line x1="91.16" y1="286.78" x2="95.56" y2="286.78" stroke="#ae94bb" stroke-width="0.9" />
<line x1="108.08" y1="304.44" x2="108.08" y2="257.34" stroke="#ae94bb" stroke-width="0.9" />
<line x1="105.88" y1="304.44" x2="110.28" y2="304.44" stroke="#ae94bb" stroke-width="0.9" />
<line x1="105.88" y1="257.34" x2="110.28" y2="257.34" stroke="#ae94bb" stroke-width="0.9" />
<line x1="122.80" y1="272.06" x2="122.80" y2="248.14" stroke="#ae94bb" stroke-width="0.9" />
<line x1="120.60" y1="272.06" x2="125.00" y2="272.06" stroke="#ae94bb" stroke-width="0.9" />
<line x1="120.60" y1="248.14" x2="125.00" y2="248.14" stroke="#ae94bb" stroke-width="0.9" />
<line x1="137.52" y1="257.34" x2="137.52" y2="240.78" stroke="#ae94bb" stroke-width="0.9" />
<line x1="135.32" y1="257.34" x2="139.72" y2="257.34" stroke="#ae94bb" stroke-width="0.9" />
<line x1="135.32" y1="240.78" x2="139.72" y2="240.78" stroke="#ae94bb" stroke-width="0.9" />
<line x1="152.24" y1="270.22" x2="152.24" y2="253.66" stroke="#ae94bb" stroke-width="0.9" />
<line x1="150.04" y1="270.22" x2="154.44" y2="270.22" stroke="#ae94bb" stroke-width="0.9" />
<line x1="150.04" y1="253.66" x2="154.44" y2="253.66" stroke="#ae94bb" stroke-width="0.9" />
<line x1="166.96" y1="272.06" x2="166.96" y2="255.87" stroke="#ae94bb" stroke-width="0.9" />
<line x1="164.76" y1="272.06" x2="169.16" y2="272.06" stroke="#ae94bb" stroke-width="0.9" />
<line x1="164.76" y1="255.87" x2="169.16" y2="255.87" stroke="#ae94bb" stroke-width="0.9" />
<line x1="181.68" y1="272.06" x2="181.68" y2="261.02" stroke="#ae94bb" stroke-width="0.9" />
<line x1="179.48" y1="272.06" x2="183.88" y2="272.06" stroke="#ae94bb" stroke-width="0.9" />
<line x1="179.48" y1="261.02" x2="183.88" y2="261.02" stroke="#ae94bb" stroke-width="0.9" />
<line x1="196.40" y1="268.38" x2="196.40" y2="254.40" stroke="#ae94bb" stroke-width="0.9" />
<line x1="194.20" y1="268.38" x2="198.60" y2="268.38" stroke="#ae94bb" stroke-width="0.9" />
<line x1="194.20" y1="254.40" x2="198.60" y2="254.40" stroke="#ae94bb" stroke-width="0.9" />
<line x1="211.12" y1="268.38" x2="211.12" y2="255.87" stroke="#ae94bb" stroke-width="0.9" />
<line x1="208.92" y1="268.38" x2="213.32" y2="268.38" stroke="#ae94bb" stroke-width="0.9" />
<line x1="208.92" y1="255.87" x2="213.32" y2="255.87" stroke="#ae94bb" stroke-width="0.9" />
<line x1="225.84" y1="301.50" x2="225.84" y2="258.44" stroke="#ae94bb" stroke-width="0.9" />
<line x1="223.64" y1="301.50" x2="228.04" y2="301.50" stroke="#ae94bb" stroke-width="0.9" />
<line x1="223.64" y1="258.44" x2="228.04" y2="258.44" stroke="#ae94bb" stroke-width="0.9" />
<line x1="240.56" y1="320.64" x2="240.56" y2="316.22" stroke="#ae94bb" stroke-width="0.9" />
<line x1="238.36" y1="320.64" x2="242.76" y2="320.64" stroke="#ae94bb" stroke-width="0.9" />
<line x1="238.36" y1="316.22" x2="242.76" y2="316.22" stroke="#ae94bb" stroke-width="0.9" />
<polyline points="50.40,319.90 65.12,319.16 79.84,319.90 94.56,319.16 109.28,319.16 124.00,319.16 138.72,319.90 153.44,320.64 168.16,321.00 182.88,321.00 197.60,320.64 212.32,321.00 227.04,321.00 241.76,321.00" fill="none" stroke="#5b9bd5" stroke-width="0.9" stroke-dasharray="1.6,2.2" stroke-linejoin="round" />
<polygon points="50.40,318.04 52.26,319.90 50.40,321.76 48.54,319.90" fill="none" stroke="#5b9bd5" stroke-width="0.8" />
<polygon points="65.12,317.30 66.98,319.16 65.12,321.02 63.26,319.16" fill="none" stroke="#5b9bd5" stroke-width="0.8" />
<polygon points="79.84,318.04 81.70,319.90 79.84,321.76 77.98,319.90" fill="none" stroke="#5b9bd5" stroke-width="0.8" />
<polygon points="94.56,317.30 96.42,319.16 94.56,321.02 92.70,319.16" fill="none" stroke="#5b9bd5" stroke-width="0.8" />
<polygon points="109.28,317.30 111.14,319.16 109.28,321.02 107.42,319.16" fill="none" stroke="#5b9bd5" stroke-width="0.8" />
<polygon points="124.00,317.30 125.86,319.16 124.00,321.02 122.14,319.16" fill="none" stroke="#5b9bd5" stroke-width="0.8" />
<polygon points="138.72,318.04 140.58,319.90 138.72,321.76 136.86,319.90" fill="none" stroke="#5b9bd5" stroke-width="0.8" />
<polygon points="153.44,318.78 155.30,320.64 153.44,322.50 151.58,320.64" fill="none" stroke="#5b9bd5" stroke-width="0.8" />
<polygon points="168.16,319.14 170.02,321.00 168.16,322.86 166.30,321.00" fill="none" stroke="#5b9bd5" stroke-width="0.8" />
<polygon points="182.88,319.14 184.74,321.00 182.88,322.86 181.02,321.00" fill="none" stroke="#5b9bd5" stroke-width="0.8" />
<polygon points="197.60,318.78 199.46,320.64 197.60,322.50 195.74,320.64" fill="none" stroke="#5b9bd5" stroke-width="0.8" />
<polygon points="212.32,319.14 214.18,321.00 212.32,322.86 210.46,321.00" fill="none" stroke="#5b9bd5" stroke-width="0.8" />
<polygon points="227.04,319.14 228.90,321.00 227.04,322.86 225.18,321.00" fill="none" stroke="#5b9bd5" stroke-width="0.8" />
<polygon points="241.76,319.14 243.62,321.00 241.76,322.86 239.90,321.00" fill="none" stroke="#5b9bd5" stroke-width="0.8" />
<polyline points="44.40,319.90 59.12,318.06 73.84,318.80 88.56,318.06 118.00,318.80 132.72,319.16 147.44,318.43 162.16,320.64 176.88,320.64 191.60,319.90 206.32,320.64 221.04,320.64 235.76,321.00" fill="none" stroke="#526b96" stroke-width="0.9" stroke-linejoin="round" />
<circle cx="44.40" cy="319.90" r="1.55" fill="none" stroke="#526b96" stroke-width="0.8"/>
<circle cx="59.12" cy="318.06" r="1.55" fill="none" stroke="#526b96" stroke-width="0.8"/>
<circle cx="73.84" cy="318.80" r="1.55" fill="none" stroke="#526b96" stroke-width="0.8"/>
<circle cx="88.56" cy="318.06" r="1.55" fill="none" stroke="#526b96" stroke-width="0.8"/>
<circle cx="118.00" cy="318.80" r="1.55" fill="none" stroke="#526b96" stroke-width="0.8"/>
<circle cx="132.72" cy="319.16" r="1.55" fill="none" stroke="#526b96" stroke-width="0.8"/>
<circle cx="147.44" cy="318.43" r="1.55" fill="none" stroke="#526b96" stroke-width="0.8"/>
<circle cx="162.16" cy="320.64" r="1.55" fill="none" stroke="#526b96" stroke-width="0.8"/>
<circle cx="176.88" cy="320.64" r="1.55" fill="none" stroke="#526b96" stroke-width="0.8"/>
<circle cx="191.60" cy="319.90" r="1.55" fill="none" stroke="#526b96" stroke-width="0.8"/>
<circle cx="206.32" cy="320.64" r="1.55" fill="none" stroke="#526b96" stroke-width="0.8"/>
<circle cx="221.04" cy="320.64" r="1.55" fill="none" stroke="#526b96" stroke-width="0.8"/>
<circle cx="235.76" cy="321.00" r="1.55" fill="none" stroke="#526b96" stroke-width="0.8"/>
<polyline points="45.40,319.90 60.12,320.27 74.84,319.90 89.56,319.16 119.00,316.59 133.72,316.22 148.44,312.54 163.16,318.06 177.88,314.75 192.60,318.43 207.32,319.90 222.04,320.27 236.76,319.90" fill="none" stroke="#a3283f" stroke-width="0.9" stroke-dasharray="3.5,1.6" stroke-linejoin="round" />
<polygon points="45.40,318.04 47.26,319.90 45.40,321.76 43.54,319.90" fill="#a3283f" stroke="#a3283f" stroke-width="0.3" />
<polygon points="60.12,318.41 61.98,320.27 60.12,322.13 58.26,320.27" fill="#a3283f" stroke="#a3283f" stroke-width="0.3" />
<polygon points="74.84,318.04 76.70,319.90 74.84,321.76 72.98,319.90" fill="#a3283f" stroke="#a3283f" stroke-width="0.3" />
<polygon points="89.56,317.30 91.42,319.16 89.56,321.02 87.70,319.16" fill="#a3283f" stroke="#a3283f" stroke-width="0.3" />
<polygon points="119.00,314.73 120.86,316.59 119.00,318.45 117.14,316.59" fill="#a3283f" stroke="#a3283f" stroke-width="0.3" />
<polygon points="133.72,314.36 135.58,316.22 133.72,318.08 131.86,316.22" fill="#a3283f" stroke="#a3283f" stroke-width="0.3" />
<polygon points="148.44,310.68 150.30,312.54 148.44,314.40 146.58,312.54" fill="#a3283f" stroke="#a3283f" stroke-width="0.3" />
<polygon points="163.16,316.20 165.02,318.06 163.16,319.92 161.30,318.06" fill="#a3283f" stroke="#a3283f" stroke-width="0.3" />
<polygon points="177.88,312.89 179.74,314.75 177.88,316.61 176.02,314.75" fill="#a3283f" stroke="#a3283f" stroke-width="0.3" />
<polygon points="192.60,316.57 194.46,318.43 192.60,320.29 190.74,318.43" fill="#a3283f" stroke="#a3283f" stroke-width="0.3" />
<polygon points="207.32,318.04 209.18,319.90 207.32,321.76 205.46,319.90" fill="#a3283f" stroke="#a3283f" stroke-width="0.3" />
<polygon points="222.04,318.41 223.90,320.27 222.04,322.13 220.18,320.27" fill="#a3283f" stroke="#a3283f" stroke-width="0.3" />
<polygon points="236.76,318.04 238.62,319.90 236.76,321.76 234.90,319.90" fill="#a3283f" stroke="#a3283f" stroke-width="0.3" />
<polyline points="46.80,319.90 61.52,318.06 76.24,319.90 90.96,315.48 120.40,294.14 135.12,286.78 149.84,281.26 164.56,297.82 179.28,308.12 194.00,313.28 208.72,315.48 223.44,316.96 238.16,319.16" fill="none" stroke="#3e7a5c" stroke-width="0.9" stroke-dasharray="3.5,1.3,1,1.3" stroke-linejoin="round" />
<line x1="45.25" y1="318.35" x2="48.35" y2="321.45" stroke="#3e7a5c" stroke-width="0.8" />
<line x1="45.25" y1="321.45" x2="48.35" y2="318.35" stroke="#3e7a5c" stroke-width="0.8" />
<line x1="59.97" y1="316.51" x2="63.07" y2="319.61" stroke="#3e7a5c" stroke-width="0.8" />
<line x1="59.97" y1="319.61" x2="63.07" y2="316.51" stroke="#3e7a5c" stroke-width="0.8" />
<line x1="74.69" y1="318.35" x2="77.79" y2="321.45" stroke="#3e7a5c" stroke-width="0.8" />
<line x1="74.69" y1="321.45" x2="77.79" y2="318.35" stroke="#3e7a5c" stroke-width="0.8" />
<line x1="89.41" y1="313.93" x2="92.51" y2="317.03" stroke="#3e7a5c" stroke-width="0.8" />
<line x1="89.41" y1="317.03" x2="92.51" y2="313.93" stroke="#3e7a5c" stroke-width="0.8" />
<line x1="118.85" y1="292.59" x2="121.95" y2="295.69" stroke="#3e7a5c" stroke-width="0.8" />
<line x1="118.85" y1="295.69" x2="121.95" y2="292.59" stroke="#3e7a5c" stroke-width="0.8" />
<line x1="133.57" y1="285.23" x2="136.67" y2="288.33" stroke="#3e7a5c" stroke-width="0.8" />
<line x1="133.57" y1="288.33" x2="136.67" y2="285.23" stroke="#3e7a5c" stroke-width="0.8" />
<line x1="148.29" y1="279.71" x2="151.39" y2="282.81" stroke="#3e7a5c" stroke-width="0.8" />
<line x1="148.29" y1="282.81" x2="151.39" y2="279.71" stroke="#3e7a5c" stroke-width="0.8" />
<line x1="163.01" y1="296.27" x2="166.11" y2="299.37" stroke="#3e7a5c" stroke-width="0.8" />
<line x1="163.01" y1="299.37" x2="166.11" y2="296.27" stroke="#3e7a5c" stroke-width="0.8" />
<line x1="177.73" y1="306.57" x2="180.83" y2="309.67" stroke="#3e7a5c" stroke-width="0.8" />
<line x1="177.73" y1="309.67" x2="180.83" y2="306.57" stroke="#3e7a5c" stroke-width="0.8" />
<line x1="192.45" y1="311.73" x2="195.55" y2="314.83" stroke="#3e7a5c" stroke-width="0.8" />
<line x1="192.45" y1="314.83" x2="195.55" y2="311.73" stroke="#3e7a5c" stroke-width="0.8" />
<line x1="207.17" y1="313.93" x2="210.27" y2="317.03" stroke="#3e7a5c" stroke-width="0.8" />
<line x1="207.17" y1="317.03" x2="210.27" y2="313.93" stroke="#3e7a5c" stroke-width="0.8" />
<line x1="221.89" y1="315.41" x2="224.99" y2="318.51" stroke="#3e7a5c" stroke-width="0.8" />
<line x1="221.89" y1="318.51" x2="224.99" y2="315.41" stroke="#3e7a5c" stroke-width="0.8" />
<line x1="236.61" y1="317.61" x2="239.71" y2="320.71" stroke="#3e7a5c" stroke-width="0.8" />
<line x1="236.61" y1="320.71" x2="239.71" y2="317.61" stroke="#3e7a5c" stroke-width="0.8" />
<polyline points="48.00,319.90 62.72,319.90 77.44,319.90 92.16,318.06 121.60,275.74 136.32,266.54 151.04,266.54 165.76,269.85 180.48,272.06 195.20,272.80 209.92,301.13 224.64,313.64 239.36,319.90" fill="none" stroke="#8a6646" stroke-width="0.9" stroke-dasharray="5,1.6" stroke-linejoin="round" />
<polygon points="48.00,318.50 49.86,321.53 46.14,321.53" fill="none" stroke="#8a6646" stroke-width="0.8" />
<polygon points="62.72,318.50 64.58,321.53 60.86,321.53" fill="none" stroke="#8a6646" stroke-width="0.8" />
<polygon points="77.44,318.50 79.30,321.53 75.58,321.53" fill="none" stroke="#8a6646" stroke-width="0.8" />
<polygon points="92.16,316.67 94.02,319.69 90.30,319.69" fill="none" stroke="#8a6646" stroke-width="0.8" />
<polygon points="121.60,274.34 123.46,277.37 119.74,277.37" fill="none" stroke="#8a6646" stroke-width="0.8" />
<polygon points="136.32,265.14 138.18,268.17 134.46,268.17" fill="none" stroke="#8a6646" stroke-width="0.8" />
<polygon points="151.04,265.14 152.90,268.17 149.18,268.17" fill="none" stroke="#8a6646" stroke-width="0.8" />
<polygon points="165.76,268.46 167.62,271.48 163.90,271.48" fill="none" stroke="#8a6646" stroke-width="0.8" />
<polygon points="180.48,270.67 182.34,273.69 178.62,273.69" fill="none" stroke="#8a6646" stroke-width="0.8" />
<polygon points="195.20,271.40 197.06,274.42 193.34,274.42" fill="none" stroke="#8a6646" stroke-width="0.8" />
<polygon points="209.92,299.74 211.78,302.76 208.06,302.76" fill="none" stroke="#8a6646" stroke-width="0.8" />
<polygon points="224.64,312.25 226.50,315.27 222.78,315.27" fill="none" stroke="#8a6646" stroke-width="0.8" />
<polygon points="239.36,318.50 241.22,321.53 237.50,321.53" fill="none" stroke="#8a6646" stroke-width="0.8" />
<polyline points="48.60,319.90 63.32,320.64 78.04,321.00 92.76,319.16 107.48,301.50 122.20,277.58 136.92,267.64 151.64,266.54 166.36,269.48 181.08,273.53 195.80,268.75 210.52,298.92 225.24,312.17 239.96,316.22" fill="none" stroke="#5fa83c" stroke-width="0.9" stroke-dasharray="3.5,1.6" stroke-linejoin="round" />
<line x1="48.60" y1="318.19" x2="48.60" y2="321.60" stroke="#5fa83c" stroke-width="0.8" />
<line x1="47.12" y1="319.05" x2="50.08" y2="320.75" stroke="#5fa83c" stroke-width="0.8" />
<line x1="47.12" y1="320.75" x2="50.08" y2="319.05" stroke="#5fa83c" stroke-width="0.8" />
<line x1="63.32" y1="318.93" x2="63.32" y2="322.34" stroke="#5fa83c" stroke-width="0.8" />
<line x1="61.84" y1="319.78" x2="64.80" y2="321.49" stroke="#5fa83c" stroke-width="0.8" />
<line x1="61.84" y1="321.49" x2="64.80" y2="319.78" stroke="#5fa83c" stroke-width="0.8" />
<line x1="78.04" y1="319.30" x2="78.04" y2="322.71" stroke="#5fa83c" stroke-width="0.8" />
<line x1="76.56" y1="320.15" x2="79.52" y2="321.86" stroke="#5fa83c" stroke-width="0.8" />
<line x1="76.56" y1="321.86" x2="79.52" y2="320.15" stroke="#5fa83c" stroke-width="0.8" />
<line x1="92.76" y1="317.46" x2="92.76" y2="320.87" stroke="#5fa83c" stroke-width="0.8" />
<line x1="91.28" y1="318.31" x2="94.24" y2="320.02" stroke="#5fa83c" stroke-width="0.8" />
<line x1="91.28" y1="320.02" x2="94.24" y2="318.31" stroke="#5fa83c" stroke-width="0.8" />
<line x1="107.48" y1="299.80" x2="107.48" y2="303.20" stroke="#5fa83c" stroke-width="0.8" />
<line x1="106.00" y1="300.65" x2="108.96" y2="302.35" stroke="#5fa83c" stroke-width="0.8" />
<line x1="106.00" y1="302.35" x2="108.96" y2="300.65" stroke="#5fa83c" stroke-width="0.8" />
<line x1="122.20" y1="275.88" x2="122.20" y2="279.28" stroke="#5fa83c" stroke-width="0.8" />
<line x1="120.72" y1="276.73" x2="123.68" y2="278.43" stroke="#5fa83c" stroke-width="0.8" />
<line x1="120.72" y1="278.43" x2="123.68" y2="276.73" stroke="#5fa83c" stroke-width="0.8" />
<line x1="136.92" y1="265.94" x2="136.92" y2="269.35" stroke="#5fa83c" stroke-width="0.8" />
<line x1="135.44" y1="266.79" x2="138.40" y2="268.50" stroke="#5fa83c" stroke-width="0.8" />
<line x1="135.44" y1="268.50" x2="138.40" y2="266.79" stroke="#5fa83c" stroke-width="0.8" />
<line x1="151.64" y1="264.83" x2="151.64" y2="268.24" stroke="#5fa83c" stroke-width="0.8" />
<line x1="150.16" y1="265.69" x2="153.12" y2="267.39" stroke="#5fa83c" stroke-width="0.8" />
<line x1="150.16" y1="267.39" x2="153.12" y2="265.69" stroke="#5fa83c" stroke-width="0.8" />
<line x1="166.36" y1="267.78" x2="166.36" y2="271.19" stroke="#5fa83c" stroke-width="0.8" />
<line x1="164.88" y1="268.63" x2="167.84" y2="270.34" stroke="#5fa83c" stroke-width="0.8" />
<line x1="164.88" y1="270.34" x2="167.84" y2="268.63" stroke="#5fa83c" stroke-width="0.8" />
<line x1="181.08" y1="271.83" x2="181.08" y2="275.24" stroke="#5fa83c" stroke-width="0.8" />
<line x1="179.60" y1="272.68" x2="182.56" y2="274.38" stroke="#5fa83c" stroke-width="0.8" />
<line x1="179.60" y1="274.38" x2="182.56" y2="272.68" stroke="#5fa83c" stroke-width="0.8" />
<line x1="195.80" y1="267.04" x2="195.80" y2="270.45" stroke="#5fa83c" stroke-width="0.8" />
<line x1="194.32" y1="267.90" x2="197.28" y2="269.60" stroke="#5fa83c" stroke-width="0.8" />
<line x1="194.32" y1="269.60" x2="197.28" y2="267.90" stroke="#5fa83c" stroke-width="0.8" />
<line x1="210.52" y1="297.22" x2="210.52" y2="300.63" stroke="#5fa83c" stroke-width="0.8" />
<line x1="209.04" y1="298.07" x2="212.00" y2="299.78" stroke="#5fa83c" stroke-width="0.8" />
<line x1="209.04" y1="299.78" x2="212.00" y2="298.07" stroke="#5fa83c" stroke-width="0.8" />
<line x1="225.24" y1="310.47" x2="225.24" y2="313.88" stroke="#5fa83c" stroke-width="0.8" />
<line x1="223.76" y1="311.32" x2="226.72" y2="313.02" stroke="#5fa83c" stroke-width="0.8" />
<line x1="223.76" y1="313.02" x2="226.72" y2="311.32" stroke="#5fa83c" stroke-width="0.8" />
<line x1="239.96" y1="314.51" x2="239.96" y2="317.92" stroke="#5fa83c" stroke-width="0.8" />
<line x1="238.48" y1="315.37" x2="241.44" y2="317.07" stroke="#5fa83c" stroke-width="0.8" />
<line x1="238.48" y1="317.07" x2="241.44" y2="315.37" stroke="#5fa83c" stroke-width="0.8" />
<polyline points="49.20,319.90 63.92,319.90 78.64,312.54 93.36,303.34 108.08,281.26 122.80,261.02 137.52,249.98 152.24,260.65 166.96,264.33 181.68,266.91 196.40,262.12 211.12,263.23 225.84,280.52 240.56,318.43" fill="none" stroke="#7a5585" stroke-width="0.9" stroke-dasharray="4.5,1.3,1,1.3" stroke-linejoin="round" />
<rect x="47.65" y="318.35" width="3.10" height="3.10" fill="none" stroke="#7a5585" stroke-width="0.8"/>
<rect x="62.37" y="318.35" width="3.10" height="3.10" fill="none" stroke="#7a5585" stroke-width="0.8"/>
<rect x="77.09" y="310.99" width="3.10" height="3.10" fill="none" stroke="#7a5585" stroke-width="0.8"/>
<rect x="91.81" y="301.79" width="3.10" height="3.10" fill="none" stroke="#7a5585" stroke-width="0.8"/>
<rect x="106.53" y="279.71" width="3.10" height="3.10" fill="none" stroke="#7a5585" stroke-width="0.8"/>
<rect x="121.25" y="259.47" width="3.10" height="3.10" fill="none" stroke="#7a5585" stroke-width="0.8"/>
<rect x="135.97" y="248.43" width="3.10" height="3.10" fill="none" stroke="#7a5585" stroke-width="0.8"/>
<rect x="150.69" y="259.10" width="3.10" height="3.10" fill="none" stroke="#7a5585" stroke-width="0.8"/>
<rect x="165.41" y="262.78" width="3.10" height="3.10" fill="none" stroke="#7a5585" stroke-width="0.8"/>
<rect x="180.13" y="265.36" width="3.10" height="3.10" fill="none" stroke="#7a5585" stroke-width="0.8"/>
<rect x="194.85" y="260.57" width="3.10" height="3.10" fill="none" stroke="#7a5585" stroke-width="0.8"/>
<rect x="209.57" y="261.68" width="3.10" height="3.10" fill="none" stroke="#7a5585" stroke-width="0.8"/>
<rect x="224.29" y="278.97" width="3.10" height="3.10" fill="none" stroke="#7a5585" stroke-width="0.8"/>
<rect x="239.01" y="316.88" width="3.10" height="3.10" fill="none" stroke="#7a5585" stroke-width="0.8"/>
<text x="263.60" y="220.60" font-size="11" fill="#262626" >D</text>
<rect x="296.8" y="224.8" width="209.7" height="117.19999999999999" fill="none" stroke="#2b2b2b" stroke-width="1.2"/>
<line x1="293.50" y1="228.10" x2="296.80" y2="228.10" stroke="#2b2b2b" stroke-width="1.1" />
<text x="290.50" y="231.00" font-size="8.6" fill="#262626" text-anchor="end" textLength="11.00" lengthAdjust="spacingAndGlyphs" stroke="#262626" stroke-width="0.15">140</text>
<line x1="293.50" y1="243.89" x2="296.80" y2="243.89" stroke="#2b2b2b" stroke-width="1.1" />
<text x="290.50" y="246.79" font-size="8.6" fill="#262626" text-anchor="end" textLength="11.00" lengthAdjust="spacingAndGlyphs" stroke="#262626" stroke-width="0.15">120</text>
<line x1="293.50" y1="259.68" x2="296.80" y2="259.68" stroke="#2b2b2b" stroke-width="1.1" />
<text x="290.50" y="262.58" font-size="8.6" fill="#262626" text-anchor="end" textLength="11.00" lengthAdjust="spacingAndGlyphs" stroke="#262626" stroke-width="0.15">100</text>
<line x1="293.50" y1="275.46" x2="296.80" y2="275.46" stroke="#2b2b2b" stroke-width="1.1" />
<text x="290.50" y="278.36" font-size="8.6" fill="#262626" text-anchor="end" textLength="7.40" lengthAdjust="spacingAndGlyphs" stroke="#262626" stroke-width="0.15">80</text>
<line x1="293.50" y1="291.25" x2="296.80" y2="291.25" stroke="#2b2b2b" stroke-width="1.1" />
<text x="290.50" y="294.15" font-size="8.6" fill="#262626" text-anchor="end" textLength="7.40" lengthAdjust="spacingAndGlyphs" stroke="#262626" stroke-width="0.15">60</text>
<line x1="293.50" y1="307.04" x2="296.80" y2="307.04" stroke="#2b2b2b" stroke-width="1.1" />
<text x="290.50" y="309.94" font-size="8.6" fill="#262626" text-anchor="end" textLength="7.40" lengthAdjust="spacingAndGlyphs" stroke="#262626" stroke-width="0.15">40</text>
<line x1="293.50" y1="322.83" x2="296.80" y2="322.83" stroke="#2b2b2b" stroke-width="1.1" />
<text x="290.50" y="325.73" font-size="8.6" fill="#262626" text-anchor="end" textLength="7.40" lengthAdjust="spacingAndGlyphs" stroke="#262626" stroke-width="0.15">20</text>
<line x1="293.50" y1="338.62" x2="296.80" y2="338.62" stroke="#2b2b2b" stroke-width="1.1" />
<text x="290.50" y="341.52" font-size="8.6" fill="#262626" text-anchor="end" textLength="3.70" lengthAdjust="spacingAndGlyphs" stroke="#262626" stroke-width="0.15">0</text>
<line x1="309.00" y1="342.00" x2="309.00" y2="345.40" stroke="#2b2b2b" stroke-width="0.9" />
<text x="311.80" y="352.30" font-size="8.0" fill="#262626" text-anchor="end" textLength="13.53" lengthAdjust="spacingAndGlyphs" transform="rotate(-45 311.80 352.30)" stroke="#262626" stroke-width="0.15">BAS</text>
<line x1="327.48" y1="342.00" x2="327.48" y2="345.40" stroke="#2b2b2b" stroke-width="0.9" />
<text x="330.28" y="352.30" font-size="8.0" fill="#262626" text-anchor="end" textLength="26.55" lengthAdjust="spacingAndGlyphs" transform="rotate(-45 330.28 352.30)" stroke="#262626" stroke-width="0.15">DAY1 1h</text>
<line x1="345.96" y1="342.00" x2="345.96" y2="345.40" stroke="#2b2b2b" stroke-width="0.9" />
<text x="348.76" y="352.30" font-size="8.0" fill="#262626" text-anchor="end" textLength="26.55" lengthAdjust="spacingAndGlyphs" transform="rotate(-45 348.76 352.30)" stroke="#262626" stroke-width="0.15">DAY1 6h</text>
<line x1="364.44" y1="342.00" x2="364.44" y2="345.40" stroke="#2b2b2b" stroke-width="0.9" />
<text x="367.24" y="352.30" font-size="8.0" fill="#262626" text-anchor="end" textLength="30.31" lengthAdjust="spacingAndGlyphs" transform="rotate(-45 367.24 352.30)" stroke="#262626" stroke-width="0.15">DAY1 12h</text>
<line x1="382.92" y1="342.00" x2="382.92" y2="345.40" stroke="#2b2b2b" stroke-width="0.9" />
<text x="385.72" y="352.30" font-size="8.0" fill="#262626" text-anchor="end" textLength="17.16" lengthAdjust="spacingAndGlyphs" transform="rotate(-45 385.72 352.30)" stroke="#262626" stroke-width="0.15">DAY2</text>
<line x1="401.40" y1="342.00" x2="401.40" y2="345.40" stroke="#2b2b2b" stroke-width="0.9" />
<text x="404.20" y="352.30" font-size="8.0" fill="#262626" text-anchor="end" textLength="17.16" lengthAdjust="spacingAndGlyphs" transform="rotate(-45 404.20 352.30)" stroke="#262626" stroke-width="0.15">DAY8</text>
<line x1="419.88" y1="342.00" x2="419.88" y2="345.40" stroke="#2b2b2b" stroke-width="0.9" />
<text x="422.68" y="352.30" font-size="8.0" fill="#262626" text-anchor="end" textLength="20.92" lengthAdjust="spacingAndGlyphs" transform="rotate(-45 422.68 352.30)" stroke="#262626" stroke-width="0.15">DAY15</text>
<line x1="438.36" y1="342.00" x2="438.36" y2="345.40" stroke="#2b2b2b" stroke-width="0.9" />
<text x="441.16" y="352.30" font-size="8.0" fill="#262626" text-anchor="end" textLength="20.92" lengthAdjust="spacingAndGlyphs" transform="rotate(-45 441.16 352.30)" stroke="#262626" stroke-width="0.15">DAY29</text>
<line x1="456.84" y1="342.00" x2="456.84" y2="345.40" stroke="#2b2b2b" stroke-width="0.9" />
<text x="459.64" y="352.30" font-size="8.0" fill="#262626" text-anchor="end" textLength="20.92" lengthAdjust="spacingAndGlyphs" transform="rotate(-45 459.64 352.30)" stroke="#262626" stroke-width="0.15">DAY43</text>
<line x1="475.32" y1="342.00" x2="475.32" y2="345.40" stroke="#2b2b2b" stroke-width="0.9" />
<text x="478.12" y="352.30" font-size="8.0" fill="#262626" text-anchor="end" textLength="20.92" lengthAdjust="spacingAndGlyphs" transform="rotate(-45 478.12 352.30)" stroke="#262626" stroke-width="0.15">DAY57</text>
<line x1="493.80" y1="342.00" x2="493.80" y2="345.40" stroke="#2b2b2b" stroke-width="0.9" />
<text x="496.60" y="352.30" font-size="8.0" fill="#262626" text-anchor="end" textLength="14.28" lengthAdjust="spacingAndGlyphs" transform="rotate(-45 496.60 352.30)" stroke="#262626" stroke-width="0.15">EOS</text>
<text x="272.80" y="283.50" font-size="10" fill="#262626" text-anchor="middle" textLength="33.80" lengthAdjust="spacingAndGlyphs" transform="rotate(-90 272.80 283.50)" stroke="#262626" stroke-width="0.1">FXI:C (%)</text>
<text x="393.30" y="388.80" font-size="10" fill="#262626" textLength="16.20" lengthAdjust="spacingAndGlyphs" stroke="#262626" stroke-width="0.1">Visit</text>
<line x1="313.50" y1="273.89" x2="313.50" y2="240.73" stroke="#8db8e0" stroke-width="0.9" />
<line x1="311.30" y1="273.89" x2="315.70" y2="273.89" stroke="#8db8e0" stroke-width="0.9" />
<line x1="311.30" y1="240.73" x2="315.70" y2="240.73" stroke="#8db8e0" stroke-width="0.9" />
<line x1="331.98" y1="275.46" x2="331.98" y2="240.73" stroke="#8db8e0" stroke-width="0.9" />
<line x1="329.78" y1="275.46" x2="334.18" y2="275.46" stroke="#8db8e0" stroke-width="0.9" />
<line x1="329.78" y1="240.73" x2="334.18" y2="240.73" stroke="#8db8e0" stroke-width="0.9" />
<line x1="350.46" y1="263.62" x2="350.46" y2="245.47" stroke="#8db8e0" stroke-width="0.9" />
<line x1="348.26" y1="263.62" x2="352.66" y2="263.62" stroke="#8db8e0" stroke-width="0.9" />
<line x1="348.26" y1="245.47" x2="352.66" y2="245.47" stroke="#8db8e0" stroke-width="0.9" />
<line x1="368.94" y1="259.68" x2="368.94" y2="245.47" stroke="#8db8e0" stroke-width="0.9" />
<line x1="366.74" y1="259.68" x2="371.14" y2="259.68" stroke="#8db8e0" stroke-width="0.9" />
<line x1="366.74" y1="245.47" x2="371.14" y2="245.47" stroke="#8db8e0" stroke-width="0.9" />
<line x1="387.42" y1="260.47" x2="387.42" y2="247.05" stroke="#8db8e0" stroke-width="0.9" />
<line x1="385.22" y1="260.47" x2="389.62" y2="260.47" stroke="#8db8e0" stroke-width="0.9" />
<line x1="385.22" y1="247.05" x2="389.62" y2="247.05" stroke="#8db8e0" stroke-width="0.9" />
<line x1="405.90" y1="256.52" x2="405.90" y2="239.94" stroke="#8db8e0" stroke-width="0.9" />
<line x1="403.70" y1="256.52" x2="408.10" y2="256.52" stroke="#8db8e0" stroke-width="0.9" />
<line x1="403.70" y1="239.94" x2="408.10" y2="239.94" stroke="#8db8e0" stroke-width="0.9" />
<line x1="424.38" y1="260.47" x2="424.38" y2="245.47" stroke="#8db8e0" stroke-width="0.9" />
<line x1="422.18" y1="260.47" x2="426.58" y2="260.47" stroke="#8db8e0" stroke-width="0.9" />
<line x1="422.18" y1="245.47" x2="426.58" y2="245.47" stroke="#8db8e0" stroke-width="0.9" />
<line x1="442.86" y1="259.68" x2="442.86" y2="247.05" stroke="#8db8e0" stroke-width="0.9" />
<line x1="440.66" y1="259.68" x2="445.06" y2="259.68" stroke="#8db8e0" stroke-width="0.9" />
<line x1="440.66" y1="247.05" x2="445.06" y2="247.05" stroke="#8db8e0" stroke-width="0.9" />
<line x1="461.34" y1="262.04" x2="461.34" y2="250.20" stroke="#8db8e0" stroke-width="0.9" />
<line x1="459.14" y1="262.04" x2="463.54" y2="262.04" stroke="#8db8e0" stroke-width="0.9" />
<line x1="459.14" y1="250.20" x2="463.54" y2="250.20" stroke="#8db8e0" stroke-width="0.9" />
<line x1="479.82" y1="260.47" x2="479.82" y2="246.26" stroke="#8db8e0" stroke-width="0.9" />
<line x1="477.62" y1="260.47" x2="482.02" y2="260.47" stroke="#8db8e0" stroke-width="0.9" />
<line x1="477.62" y1="246.26" x2="482.02" y2="246.26" stroke="#8db8e0" stroke-width="0.9" />
<line x1="498.30" y1="259.68" x2="498.30" y2="243.89" stroke="#8db8e0" stroke-width="0.9" />
<line x1="496.10" y1="259.68" x2="500.50" y2="259.68" stroke="#8db8e0" stroke-width="0.9" />
<line x1="496.10" y1="243.89" x2="500.50" y2="243.89" stroke="#8db8e0" stroke-width="0.9" />
<line x1="304.50" y1="264.41" x2="304.50" y2="242.31" stroke="#8096b8" stroke-width="0.9" />
<line x1="302.30" y1="264.41" x2="306.70" y2="264.41" stroke="#8096b8" stroke-width="0.9" />
<line x1="302.30" y1="242.31" x2="306.70" y2="242.31" stroke="#8096b8" stroke-width="0.9" />
<line x1="322.98" y1="270.73" x2="322.98" y2="238.36" stroke="#8096b8" stroke-width="0.9" />
<line x1="320.78" y1="270.73" x2="325.18" y2="270.73" stroke="#8096b8" stroke-width="0.9" />
<line x1="320.78" y1="238.36" x2="325.18" y2="238.36" stroke="#8096b8" stroke-width="0.9" />
<line x1="341.46" y1="263.62" x2="341.46" y2="243.89" stroke="#8096b8" stroke-width="0.9" />
<line x1="339.26" y1="263.62" x2="343.66" y2="263.62" stroke="#8096b8" stroke-width="0.9" />
<line x1="339.26" y1="243.89" x2="343.66" y2="243.89" stroke="#8096b8" stroke-width="0.9" />
<line x1="378.42" y1="269.94" x2="378.42" y2="245.47" stroke="#8096b8" stroke-width="0.9" />
<line x1="376.22" y1="269.94" x2="380.62" y2="269.94" stroke="#8096b8" stroke-width="0.9" />
<line x1="376.22" y1="245.47" x2="380.62" y2="245.47" stroke="#8096b8" stroke-width="0.9" />
<line x1="396.90" y1="271.52" x2="396.90" y2="249.41" stroke="#8096b8" stroke-width="0.9" />
<line x1="394.70" y1="271.52" x2="399.10" y2="271.52" stroke="#8096b8" stroke-width="0.9" />
<line x1="394.70" y1="249.41" x2="399.10" y2="249.41" stroke="#8096b8" stroke-width="0.9" />
<line x1="415.38" y1="267.57" x2="415.38" y2="243.10" stroke="#8096b8" stroke-width="0.9" />
<line x1="413.18" y1="267.57" x2="417.58" y2="267.57" stroke="#8096b8" stroke-width="0.9" />
<line x1="413.18" y1="243.10" x2="417.58" y2="243.10" stroke="#8096b8" stroke-width="0.9" />
<line x1="433.86" y1="265.99" x2="433.86" y2="248.62" stroke="#8096b8" stroke-width="0.9" />
<line x1="431.66" y1="265.99" x2="436.06" y2="265.99" stroke="#8096b8" stroke-width="0.9" />
<line x1="431.66" y1="248.62" x2="436.06" y2="248.62" stroke="#8096b8" stroke-width="0.9" />
<line x1="452.34" y1="275.46" x2="452.34" y2="238.36" stroke="#8096b8" stroke-width="0.9" />
<line x1="450.14" y1="275.46" x2="454.54" y2="275.46" stroke="#8096b8" stroke-width="0.9" />
<line x1="450.14" y1="238.36" x2="454.54" y2="238.36" stroke="#8096b8" stroke-width="0.9" />
<line x1="470.82" y1="263.62" x2="470.82" y2="240.73" stroke="#8096b8" stroke-width="0.9" />
<line x1="468.62" y1="263.62" x2="473.02" y2="263.62" stroke="#8096b8" stroke-width="0.9" />
<line x1="468.62" y1="240.73" x2="473.02" y2="240.73" stroke="#8096b8" stroke-width="0.9" />
<line x1="489.30" y1="261.25" x2="489.30" y2="244.68" stroke="#8096b8" stroke-width="0.9" />
<line x1="487.10" y1="261.25" x2="491.50" y2="261.25" stroke="#8096b8" stroke-width="0.9" />
<line x1="487.10" y1="244.68" x2="491.50" y2="244.68" stroke="#8096b8" stroke-width="0.9" />
<line x1="305.60" y1="275.46" x2="305.60" y2="248.62" stroke="#c87585" stroke-width="0.9" />
<line x1="303.40" y1="275.46" x2="307.80" y2="275.46" stroke="#c87585" stroke-width="0.9" />
<line x1="303.40" y1="248.62" x2="307.80" y2="248.62" stroke="#c87585" stroke-width="0.9" />
<line x1="324.08" y1="275.46" x2="324.08" y2="249.41" stroke="#c87585" stroke-width="0.9" />
<line x1="321.88" y1="275.46" x2="326.28" y2="275.46" stroke="#c87585" stroke-width="0.9" />
<line x1="321.88" y1="249.41" x2="326.28" y2="249.41" stroke="#c87585" stroke-width="0.9" />
<line x1="342.56" y1="273.10" x2="342.56" y2="258.10" stroke="#c87585" stroke-width="0.9" />
<line x1="340.36" y1="273.10" x2="344.76" y2="273.10" stroke="#c87585" stroke-width="0.9" />
<line x1="340.36" y1="258.10" x2="344.76" y2="258.10" stroke="#c87585" stroke-width="0.9" />
<line x1="379.52" y1="287.31" x2="379.52" y2="263.62" stroke="#c87585" stroke-width="0.9" />
<line x1="377.32" y1="287.31" x2="381.72" y2="287.31" stroke="#c87585" stroke-width="0.9" />
<line x1="377.32" y1="263.62" x2="381.72" y2="263.62" stroke="#c87585" stroke-width="0.9" />
<line x1="398.00" y1="297.57" x2="398.00" y2="269.15" stroke="#c87585" stroke-width="0.9" />
<line x1="395.80" y1="297.57" x2="400.20" y2="297.57" stroke="#c87585" stroke-width="0.9" />
<line x1="395.80" y1="269.15" x2="400.20" y2="269.15" stroke="#c87585" stroke-width="0.9" />
<line x1="416.48" y1="291.25" x2="416.48" y2="269.15" stroke="#c87585" stroke-width="0.9" />
<line x1="414.28" y1="291.25" x2="418.68" y2="291.25" stroke="#c87585" stroke-width="0.9" />
<line x1="414.28" y1="269.15" x2="418.68" y2="269.15" stroke="#c87585" stroke-width="0.9" />
<line x1="434.96" y1="287.31" x2="434.96" y2="269.15" stroke="#c87585" stroke-width="0.9" />
<line x1="432.76" y1="287.31" x2="437.16" y2="287.31" stroke="#c87585" stroke-width="0.9" />
<line x1="432.76" y1="269.15" x2="437.16" y2="269.15" stroke="#c87585" stroke-width="0.9" />
<line x1="453.44" y1="277.04" x2="453.44" y2="259.68" stroke="#c87585" stroke-width="0.9" />
<line x1="451.24" y1="277.04" x2="455.64" y2="277.04" stroke="#c87585" stroke-width="0.9" />
<line x1="451.24" y1="259.68" x2="455.64" y2="259.68" stroke="#c87585" stroke-width="0.9" />
<line x1="471.92" y1="275.46" x2="471.92" y2="259.68" stroke="#c87585" stroke-width="0.9" />
<line x1="469.72" y1="275.46" x2="474.12" y2="275.46" stroke="#c87585" stroke-width="0.9" />
<line x1="469.72" y1="259.68" x2="474.12" y2="259.68" stroke="#c87585" stroke-width="0.9" />
<line x1="490.40" y1="267.57" x2="490.40" y2="256.52" stroke="#c87585" stroke-width="0.9" />
<line x1="488.20" y1="267.57" x2="492.60" y2="267.57" stroke="#c87585" stroke-width="0.9" />
<line x1="488.20" y1="256.52" x2="492.60" y2="256.52" stroke="#c87585" stroke-width="0.9" />
<line x1="307.60" y1="273.10" x2="307.60" y2="249.41" stroke="#7fa691" stroke-width="0.9" />
<line x1="305.40" y1="273.10" x2="309.80" y2="273.10" stroke="#7fa691" stroke-width="0.9" />
<line x1="305.40" y1="249.41" x2="309.80" y2="249.41" stroke="#7fa691" stroke-width="0.9" />
<line x1="326.08" y1="281.78" x2="326.08" y2="251.78" stroke="#7fa691" stroke-width="0.9" />
<line x1="323.88" y1="281.78" x2="328.28" y2="281.78" stroke="#7fa691" stroke-width="0.9" />
<line x1="323.88" y1="251.78" x2="328.28" y2="251.78" stroke="#7fa691" stroke-width="0.9" />
<line x1="344.56" y1="299.15" x2="344.56" y2="275.46" stroke="#7fa691" stroke-width="0.9" />
<line x1="342.36" y1="299.15" x2="346.76" y2="299.15" stroke="#7fa691" stroke-width="0.9" />
<line x1="342.36" y1="275.46" x2="346.76" y2="275.46" stroke="#7fa691" stroke-width="0.9" />
<line x1="381.52" y1="338.62" x2="381.52" y2="295.20" stroke="#7fa691" stroke-width="0.9" />
<line x1="379.32" y1="338.62" x2="383.72" y2="338.62" stroke="#7fa691" stroke-width="0.9" />
<line x1="379.32" y1="295.20" x2="383.72" y2="295.20" stroke="#7fa691" stroke-width="0.9" />
<line x1="400.00" y1="338.62" x2="400.00" y2="322.04" stroke="#7fa691" stroke-width="0.9" />
<line x1="397.80" y1="338.62" x2="402.20" y2="338.62" stroke="#7fa691" stroke-width="0.9" />
<line x1="397.80" y1="322.04" x2="402.20" y2="322.04" stroke="#7fa691" stroke-width="0.9" />
<line x1="418.48" y1="338.62" x2="418.48" y2="295.20" stroke="#7fa691" stroke-width="0.9" />
<line x1="416.28" y1="338.62" x2="420.68" y2="338.62" stroke="#7fa691" stroke-width="0.9" />
<line x1="416.28" y1="295.20" x2="420.68" y2="295.20" stroke="#7fa691" stroke-width="0.9" />
<line x1="436.96" y1="304.67" x2="436.96" y2="280.99" stroke="#7fa691" stroke-width="0.9" />
<line x1="434.76" y1="304.67" x2="439.16" y2="304.67" stroke="#7fa691" stroke-width="0.9" />
<line x1="434.76" y1="280.99" x2="439.16" y2="280.99" stroke="#7fa691" stroke-width="0.9" />
<line x1="455.44" y1="289.67" x2="455.44" y2="261.25" stroke="#7fa691" stroke-width="0.9" />
<line x1="453.24" y1="289.67" x2="457.64" y2="289.67" stroke="#7fa691" stroke-width="0.9" />
<line x1="453.24" y1="261.25" x2="457.64" y2="261.25" stroke="#7fa691" stroke-width="0.9" />
<line x1="473.92" y1="275.46" x2="473.92" y2="258.10" stroke="#7fa691" stroke-width="0.9" />
<line x1="471.72" y1="275.46" x2="476.12" y2="275.46" stroke="#7fa691" stroke-width="0.9" />
<line x1="471.72" y1="258.10" x2="476.12" y2="258.10" stroke="#7fa691" stroke-width="0.9" />
<line x1="492.40" y1="267.57" x2="492.40" y2="256.52" stroke="#7fa691" stroke-width="0.9" />
<line x1="490.20" y1="267.57" x2="494.60" y2="267.57" stroke="#7fa691" stroke-width="0.9" />
<line x1="490.20" y1="256.52" x2="494.60" y2="256.52" stroke="#7fa691" stroke-width="0.9" />
<line x1="308.30" y1="274.67" x2="308.30" y2="248.62" stroke="#b39a82" stroke-width="0.9" />
<line x1="306.10" y1="274.67" x2="310.50" y2="274.67" stroke="#b39a82" stroke-width="0.9" />
<line x1="306.10" y1="248.62" x2="310.50" y2="248.62" stroke="#b39a82" stroke-width="0.9" />
<line x1="326.78" y1="283.36" x2="326.78" y2="250.20" stroke="#b39a82" stroke-width="0.9" />
<line x1="324.58" y1="283.36" x2="328.98" y2="283.36" stroke="#b39a82" stroke-width="0.9" />
<line x1="324.58" y1="250.20" x2="328.98" y2="250.20" stroke="#b39a82" stroke-width="0.9" />
<line x1="345.26" y1="300.72" x2="345.26" y2="280.99" stroke="#b39a82" stroke-width="0.9" />
<line x1="343.06" y1="300.72" x2="347.46" y2="300.72" stroke="#b39a82" stroke-width="0.9" />
<line x1="343.06" y1="280.99" x2="347.46" y2="280.99" stroke="#b39a82" stroke-width="0.9" />
<line x1="382.22" y1="338.62" x2="382.22" y2="332.30" stroke="#b39a82" stroke-width="0.9" />
<line x1="380.02" y1="338.62" x2="384.42" y2="338.62" stroke="#b39a82" stroke-width="0.9" />
<line x1="380.02" y1="332.30" x2="384.42" y2="332.30" stroke="#b39a82" stroke-width="0.9" />
<line x1="400.70" y1="338.62" x2="400.70" y2="333.88" stroke="#b39a82" stroke-width="0.9" />
<line x1="398.50" y1="338.62" x2="402.90" y2="338.62" stroke="#b39a82" stroke-width="0.9" />
<line x1="398.50" y1="333.88" x2="402.90" y2="333.88" stroke="#b39a82" stroke-width="0.9" />
<line x1="419.18" y1="338.62" x2="419.18" y2="333.88" stroke="#b39a82" stroke-width="0.9" />
<line x1="416.98" y1="338.62" x2="421.38" y2="338.62" stroke="#b39a82" stroke-width="0.9" />
<line x1="416.98" y1="333.88" x2="421.38" y2="333.88" stroke="#b39a82" stroke-width="0.9" />
<line x1="437.66" y1="338.62" x2="437.66" y2="333.88" stroke="#b39a82" stroke-width="0.9" />
<line x1="435.46" y1="338.62" x2="439.86" y2="338.62" stroke="#b39a82" stroke-width="0.9" />
<line x1="435.46" y1="333.88" x2="439.86" y2="333.88" stroke="#b39a82" stroke-width="0.9" />
<line x1="456.14" y1="338.62" x2="456.14" y2="286.52" stroke="#b39a82" stroke-width="0.9" />
<line x1="453.94" y1="338.62" x2="458.34" y2="338.62" stroke="#b39a82" stroke-width="0.9" />
<line x1="453.94" y1="286.52" x2="458.34" y2="286.52" stroke="#b39a82" stroke-width="0.9" />
<line x1="474.62" y1="291.25" x2="474.62" y2="265.99" stroke="#b39a82" stroke-width="0.9" />
<line x1="472.42" y1="291.25" x2="476.82" y2="291.25" stroke="#b39a82" stroke-width="0.9" />
<line x1="472.42" y1="265.99" x2="476.82" y2="265.99" stroke="#b39a82" stroke-width="0.9" />
<line x1="493.10" y1="271.52" x2="493.10" y2="255.73" stroke="#b39a82" stroke-width="0.9" />
<line x1="490.90" y1="271.52" x2="495.30" y2="271.52" stroke="#b39a82" stroke-width="0.9" />
<line x1="490.90" y1="255.73" x2="495.30" y2="255.73" stroke="#b39a82" stroke-width="0.9" />
<line x1="310.00" y1="271.52" x2="310.00" y2="247.05" stroke="#ae94bb" stroke-width="0.9" />
<line x1="307.80" y1="271.52" x2="312.20" y2="271.52" stroke="#ae94bb" stroke-width="0.9" />
<line x1="307.80" y1="247.05" x2="312.20" y2="247.05" stroke="#ae94bb" stroke-width="0.9" />
<line x1="328.48" y1="279.41" x2="328.48" y2="242.31" stroke="#ae94bb" stroke-width="0.9" />
<line x1="326.28" y1="279.41" x2="330.68" y2="279.41" stroke="#ae94bb" stroke-width="0.9" />
<line x1="326.28" y1="242.31" x2="330.68" y2="242.31" stroke="#ae94bb" stroke-width="0.9" />
<line x1="346.96" y1="327.56" x2="346.96" y2="252.57" stroke="#ae94bb" stroke-width="0.9" />
<line x1="344.76" y1="327.56" x2="349.16" y2="327.56" stroke="#ae94bb" stroke-width="0.9" />
<line x1="344.76" y1="252.57" x2="349.16" y2="252.57" stroke="#ae94bb" stroke-width="0.9" />
<line x1="365.44" y1="335.46" x2="365.44" y2="321.25" stroke="#ae94bb" stroke-width="0.9" />
<line x1="363.24" y1="335.46" x2="367.64" y2="335.46" stroke="#ae94bb" stroke-width="0.9" />
<line x1="363.24" y1="321.25" x2="367.64" y2="321.25" stroke="#ae94bb" stroke-width="0.9" />
<line x1="476.32" y1="337.83" x2="476.32" y2="319.67" stroke="#ae94bb" stroke-width="0.9" />
<line x1="474.12" y1="337.83" x2="478.52" y2="337.83" stroke="#ae94bb" stroke-width="0.9" />
<line x1="474.12" y1="319.67" x2="478.52" y2="319.67" stroke="#ae94bb" stroke-width="0.9" />
<line x1="494.80" y1="271.52" x2="494.80" y2="257.31" stroke="#ae94bb" stroke-width="0.9" />
<line x1="492.60" y1="271.52" x2="497.00" y2="271.52" stroke="#ae94bb" stroke-width="0.9" />
<line x1="492.60" y1="257.31" x2="497.00" y2="257.31" stroke="#ae94bb" stroke-width="0.9" />
<line x1="310.80" y1="271.52" x2="310.80" y2="245.47" stroke="#9ccb82" stroke-width="0.9" />
<line x1="308.60" y1="271.52" x2="313.00" y2="271.52" stroke="#9ccb82" stroke-width="0.9" />
<line x1="308.60" y1="245.47" x2="313.00" y2="245.47" stroke="#9ccb82" stroke-width="0.9" />
<line x1="329.28" y1="275.46" x2="329.28" y2="249.41" stroke="#9ccb82" stroke-width="0.9" />
<line x1="327.08" y1="275.46" x2="331.48" y2="275.46" stroke="#9ccb82" stroke-width="0.9" />
<line x1="327.08" y1="249.41" x2="331.48" y2="249.41" stroke="#9ccb82" stroke-width="0.9" />
<line x1="347.76" y1="295.20" x2="347.76" y2="267.57" stroke="#9ccb82" stroke-width="0.9" />
<line x1="345.56" y1="295.20" x2="349.96" y2="295.20" stroke="#9ccb82" stroke-width="0.9" />
<line x1="345.56" y1="267.57" x2="349.96" y2="267.57" stroke="#9ccb82" stroke-width="0.9" />
<line x1="366.24" y1="330.72" x2="366.24" y2="302.30" stroke="#9ccb82" stroke-width="0.9" />
<line x1="364.04" y1="330.72" x2="368.44" y2="330.72" stroke="#9ccb82" stroke-width="0.9" />
<line x1="364.04" y1="302.30" x2="368.44" y2="302.30" stroke="#9ccb82" stroke-width="0.9" />
<line x1="384.72" y1="338.62" x2="384.72" y2="322.83" stroke="#9ccb82" stroke-width="0.9" />
<line x1="382.52" y1="338.62" x2="386.92" y2="338.62" stroke="#9ccb82" stroke-width="0.9" />
<line x1="382.52" y1="322.83" x2="386.92" y2="322.83" stroke="#9ccb82" stroke-width="0.9" />
<line x1="458.64" y1="338.62" x2="458.64" y2="297.57" stroke="#9ccb82" stroke-width="0.9" />
<line x1="456.44" y1="338.62" x2="460.84" y2="338.62" stroke="#9ccb82" stroke-width="0.9" />
<line x1="456.44" y1="297.57" x2="460.84" y2="297.57" stroke="#9ccb82" stroke-width="0.9" />
<line x1="477.12" y1="334.67" x2="477.12" y2="265.99" stroke="#9ccb82" stroke-width="0.9" />
<line x1="474.92" y1="334.67" x2="479.32" y2="334.67" stroke="#9ccb82" stroke-width="0.9" />
<line x1="474.92" y1="265.99" x2="479.32" y2="265.99" stroke="#9ccb82" stroke-width="0.9" />
<line x1="495.60" y1="279.41" x2="495.60" y2="250.20" stroke="#9ccb82" stroke-width="0.9" />
<line x1="493.40" y1="279.41" x2="497.80" y2="279.41" stroke="#9ccb82" stroke-width="0.9" />
<line x1="493.40" y1="250.20" x2="497.80" y2="250.20" stroke="#9ccb82" stroke-width="0.9" />
<polyline points="313.50,258.89 331.98,254.94 350.46,254.94 368.94,252.57 387.42,254.15 405.90,249.41 424.38,253.36 442.86,253.36 461.34,256.52 479.82,253.36 498.30,250.99" fill="none" stroke="#5b9bd5" stroke-width="0.9" stroke-dasharray="1.6,2.2" stroke-linejoin="round" />
<polygon points="313.50,257.03 315.36,258.89 313.50,260.75 311.64,258.89" fill="none" stroke="#5b9bd5" stroke-width="0.8" />
<polygon points="331.98,253.08 333.84,254.94 331.98,256.80 330.12,254.94" fill="none" stroke="#5b9bd5" stroke-width="0.8" />
<polygon points="350.46,253.08 352.32,254.94 350.46,256.80 348.60,254.94" fill="none" stroke="#5b9bd5" stroke-width="0.8" />
<polygon points="368.94,250.71 370.80,252.57 368.94,254.43 367.08,252.57" fill="none" stroke="#5b9bd5" stroke-width="0.8" />
<polygon points="387.42,252.29 389.28,254.15 387.42,256.01 385.56,254.15" fill="none" stroke="#5b9bd5" stroke-width="0.8" />
<polygon points="405.90,247.55 407.76,249.41 405.90,251.27 404.04,249.41" fill="none" stroke="#5b9bd5" stroke-width="0.8" />
<polygon points="424.38,251.50 426.24,253.36 424.38,255.22 422.52,253.36" fill="none" stroke="#5b9bd5" stroke-width="0.8" />
<polygon points="442.86,251.50 444.72,253.36 442.86,255.22 441.00,253.36" fill="none" stroke="#5b9bd5" stroke-width="0.8" />
<polygon points="461.34,254.66 463.20,256.52 461.34,258.38 459.48,256.52" fill="none" stroke="#5b9bd5" stroke-width="0.8" />
<polygon points="479.82,251.50 481.68,253.36 479.82,255.22 477.96,253.36" fill="none" stroke="#5b9bd5" stroke-width="0.8" />
<polygon points="498.30,249.13 500.16,250.99 498.30,252.85 496.44,250.99" fill="none" stroke="#5b9bd5" stroke-width="0.8" />
<polyline points="304.50,254.15 322.98,255.73 341.46,253.36 378.42,257.54 396.90,260.47 415.38,258.89 433.86,257.31 452.34,256.52 470.82,256.52 489.30,253.36" fill="none" stroke="#526b96" stroke-width="0.9" stroke-linejoin="round" />
<circle cx="304.50" cy="254.15" r="1.55" fill="none" stroke="#526b96" stroke-width="0.8"/>
<circle cx="322.98" cy="255.73" r="1.55" fill="none" stroke="#526b96" stroke-width="0.8"/>
<circle cx="341.46" cy="253.36" r="1.55" fill="none" stroke="#526b96" stroke-width="0.8"/>
<circle cx="378.42" cy="257.54" r="1.55" fill="none" stroke="#526b96" stroke-width="0.8"/>
<circle cx="396.90" cy="260.47" r="1.55" fill="none" stroke="#526b96" stroke-width="0.8"/>
<circle cx="415.38" cy="258.89" r="1.55" fill="none" stroke="#526b96" stroke-width="0.8"/>
<circle cx="433.86" cy="257.31" r="1.55" fill="none" stroke="#526b96" stroke-width="0.8"/>
<circle cx="452.34" cy="256.52" r="1.55" fill="none" stroke="#526b96" stroke-width="0.8"/>
<circle cx="470.82" cy="256.52" r="1.55" fill="none" stroke="#526b96" stroke-width="0.8"/>
<circle cx="489.30" cy="253.36" r="1.55" fill="none" stroke="#526b96" stroke-width="0.8"/>
<polyline points="305.60,260.94 324.08,261.81 342.56,265.99 379.52,276.57 398.00,283.99 416.48,279.41 434.96,278.62 453.44,267.57 471.92,266.78 490.40,261.25" fill="none" stroke="#a3283f" stroke-width="0.9" stroke-dasharray="3.5,1.6" stroke-linejoin="round" />
<polygon points="305.60,259.08 307.46,260.94 305.60,262.80 303.74,260.94" fill="#a3283f" stroke="#a3283f" stroke-width="0.3" />
<polygon points="324.08,259.95 325.94,261.81 324.08,263.67 322.22,261.81" fill="#a3283f" stroke="#a3283f" stroke-width="0.3" />
<polygon points="342.56,264.13 344.42,265.99 342.56,267.85 340.70,265.99" fill="#a3283f" stroke="#a3283f" stroke-width="0.3" />
<polygon points="379.52,274.71 381.38,276.57 379.52,278.43 377.66,276.57" fill="#a3283f" stroke="#a3283f" stroke-width="0.3" />
<polygon points="398.00,282.13 399.86,283.99 398.00,285.85 396.14,283.99" fill="#a3283f" stroke="#a3283f" stroke-width="0.3" />
<polygon points="416.48,277.55 418.34,279.41 416.48,281.27 414.62,279.41" fill="#a3283f" stroke="#a3283f" stroke-width="0.3" />
<polygon points="434.96,276.76 436.82,278.62 434.96,280.48 433.10,278.62" fill="#a3283f" stroke="#a3283f" stroke-width="0.3" />
<polygon points="453.44,265.71 455.30,267.57 453.44,269.43 451.58,267.57" fill="#a3283f" stroke="#a3283f" stroke-width="0.3" />
<polygon points="471.92,264.92 473.78,266.78 471.92,268.64 470.06,266.78" fill="#a3283f" stroke="#a3283f" stroke-width="0.3" />
<polygon points="490.40,259.39 492.26,261.25 490.40,263.11 488.54,261.25" fill="#a3283f" stroke="#a3283f" stroke-width="0.3" />
<polyline points="307.60,261.25 326.08,265.99 344.56,284.15 381.52,329.46 400.00,333.88 418.48,328.35 436.96,292.83 455.44,275.46 473.92,265.99 492.40,262.04" fill="none" stroke="#3e7a5c" stroke-width="0.9" stroke-dasharray="3.5,1.3,1,1.3" stroke-linejoin="round" />
<line x1="306.05" y1="259.70" x2="309.15" y2="262.80" stroke="#3e7a5c" stroke-width="0.8" />
<line x1="306.05" y1="262.80" x2="309.15" y2="259.70" stroke="#3e7a5c" stroke-width="0.8" />
<line x1="324.53" y1="264.44" x2="327.63" y2="267.54" stroke="#3e7a5c" stroke-width="0.8" />
<line x1="324.53" y1="267.54" x2="327.63" y2="264.44" stroke="#3e7a5c" stroke-width="0.8" />
<line x1="343.01" y1="282.60" x2="346.11" y2="285.70" stroke="#3e7a5c" stroke-width="0.8" />
<line x1="343.01" y1="285.70" x2="346.11" y2="282.60" stroke="#3e7a5c" stroke-width="0.8" />
<line x1="379.97" y1="327.91" x2="383.07" y2="331.01" stroke="#3e7a5c" stroke-width="0.8" />
<line x1="379.97" y1="331.01" x2="383.07" y2="327.91" stroke="#3e7a5c" stroke-width="0.8" />
<line x1="398.45" y1="332.33" x2="401.55" y2="335.43" stroke="#3e7a5c" stroke-width="0.8" />
<line x1="398.45" y1="335.43" x2="401.55" y2="332.33" stroke="#3e7a5c" stroke-width="0.8" />
<line x1="416.93" y1="326.80" x2="420.03" y2="329.90" stroke="#3e7a5c" stroke-width="0.8" />
<line x1="416.93" y1="329.90" x2="420.03" y2="326.80" stroke="#3e7a5c" stroke-width="0.8" />
<line x1="435.41" y1="291.28" x2="438.51" y2="294.38" stroke="#3e7a5c" stroke-width="0.8" />
<line x1="435.41" y1="294.38" x2="438.51" y2="291.28" stroke="#3e7a5c" stroke-width="0.8" />
<line x1="453.89" y1="273.91" x2="456.99" y2="277.01" stroke="#3e7a5c" stroke-width="0.8" />
<line x1="453.89" y1="277.01" x2="456.99" y2="273.91" stroke="#3e7a5c" stroke-width="0.8" />
<line x1="472.37" y1="264.44" x2="475.47" y2="267.54" stroke="#3e7a5c" stroke-width="0.8" />
<line x1="472.37" y1="267.54" x2="475.47" y2="264.44" stroke="#3e7a5c" stroke-width="0.8" />
<line x1="490.85" y1="260.49" x2="493.95" y2="263.59" stroke="#3e7a5c" stroke-width="0.8" />
<line x1="490.85" y1="263.59" x2="493.95" y2="260.49" stroke="#3e7a5c" stroke-width="0.8" />
<polyline points="308.30,261.25 326.78,265.99 345.26,288.09 382.22,335.46 400.70,336.25 419.18,336.25 437.66,336.25 456.14,321.25 474.62,279.41 493.10,262.83" fill="none" stroke="#8a6646" stroke-width="0.9" stroke-dasharray="5,1.6" stroke-linejoin="round" />
<polygon points="308.30,259.86 310.16,262.88 306.44,262.88" fill="none" stroke="#8a6646" stroke-width="0.8" />
<polygon points="326.78,264.60 328.64,267.62 324.92,267.62" fill="none" stroke="#8a6646" stroke-width="0.8" />
<polygon points="345.26,286.70 347.12,289.72 343.40,289.72" fill="none" stroke="#8a6646" stroke-width="0.8" />
<polygon points="382.22,334.06 384.08,337.09 380.36,337.09" fill="none" stroke="#8a6646" stroke-width="0.8" />
<polygon points="400.70,334.85 402.56,337.88 398.84,337.88" fill="none" stroke="#8a6646" stroke-width="0.8" />
<polygon points="419.18,334.85 421.04,337.88 417.32,337.88" fill="none" stroke="#8a6646" stroke-width="0.8" />
<polygon points="437.66,334.85 439.52,337.88 435.80,337.88" fill="none" stroke="#8a6646" stroke-width="0.8" />
<polygon points="456.14,319.85 458.00,322.88 454.28,322.88" fill="none" stroke="#8a6646" stroke-width="0.8" />
<polygon points="474.62,278.02 476.48,281.04 472.76,281.04" fill="none" stroke="#8a6646" stroke-width="0.8" />
<polygon points="493.10,261.44 494.96,264.46 491.24,264.46" fill="none" stroke="#8a6646" stroke-width="0.8" />
<polyline points="310.00,255.97 328.48,257.31 346.96,307.28 365.44,330.49 383.92,335.85 402.40,335.85 420.88,335.85 439.36,335.85 457.84,335.85 476.32,332.30 494.80,263.62" fill="none" stroke="#7a5585" stroke-width="0.9" stroke-dasharray="4.5,1.3,1,1.3" stroke-linejoin="round" />
<rect x="308.45" y="254.42" width="3.10" height="3.10" fill="none" stroke="#7a5585" stroke-width="0.8"/>
<rect x="326.93" y="255.76" width="3.10" height="3.10" fill="none" stroke="#7a5585" stroke-width="0.8"/>
<rect x="345.41" y="305.73" width="3.10" height="3.10" fill="none" stroke="#7a5585" stroke-width="0.8"/>
<rect x="363.89" y="328.94" width="3.10" height="3.10" fill="none" stroke="#7a5585" stroke-width="0.8"/>
<rect x="382.37" y="334.30" width="3.10" height="3.10" fill="none" stroke="#7a5585" stroke-width="0.8"/>
<rect x="400.85" y="334.30" width="3.10" height="3.10" fill="none" stroke="#7a5585" stroke-width="0.8"/>
<rect x="419.33" y="334.30" width="3.10" height="3.10" fill="none" stroke="#7a5585" stroke-width="0.8"/>
<rect x="437.81" y="334.30" width="3.10" height="3.10" fill="none" stroke="#7a5585" stroke-width="0.8"/>
<rect x="456.29" y="334.30" width="3.10" height="3.10" fill="none" stroke="#7a5585" stroke-width="0.8"/>
<rect x="474.77" y="330.75" width="3.10" height="3.10" fill="none" stroke="#7a5585" stroke-width="0.8"/>
<rect x="493.25" y="262.07" width="3.10" height="3.10" fill="none" stroke="#7a5585" stroke-width="0.8"/>
<polyline points="310.80,259.68 329.28,263.62 347.76,281.78 366.24,322.04 384.72,332.30 403.20,336.25 421.68,336.25 440.16,336.25 458.64,330.72 477.12,304.67 495.60,263.62" fill="none" stroke="#5fa83c" stroke-width="0.9" stroke-dasharray="3.5,1.6" stroke-linejoin="round" />
<line x1="310.80" y1="257.97" x2="310.80" y2="261.38" stroke="#5fa83c" stroke-width="0.8" />
<line x1="309.32" y1="258.82" x2="312.28" y2="260.53" stroke="#5fa83c" stroke-width="0.8" />
<line x1="309.32" y1="260.53" x2="312.28" y2="258.82" stroke="#5fa83c" stroke-width="0.8" />
<line x1="329.28" y1="261.92" x2="329.28" y2="265.33" stroke="#5fa83c" stroke-width="0.8" />
<line x1="327.80" y1="262.77" x2="330.76" y2="264.48" stroke="#5fa83c" stroke-width="0.8" />
<line x1="327.80" y1="264.48" x2="330.76" y2="262.77" stroke="#5fa83c" stroke-width="0.8" />
<line x1="347.76" y1="280.07" x2="347.76" y2="283.48" stroke="#5fa83c" stroke-width="0.8" />
<line x1="346.28" y1="280.93" x2="349.24" y2="282.63" stroke="#5fa83c" stroke-width="0.8" />
<line x1="346.28" y1="282.63" x2="349.24" y2="280.93" stroke="#5fa83c" stroke-width="0.8" />
<line x1="366.24" y1="320.33" x2="366.24" y2="323.74" stroke="#5fa83c" stroke-width="0.8" />
<line x1="364.76" y1="321.19" x2="367.72" y2="322.89" stroke="#5fa83c" stroke-width="0.8" />
<line x1="364.76" y1="322.89" x2="367.72" y2="321.19" stroke="#5fa83c" stroke-width="0.8" />
<line x1="384.72" y1="330.60" x2="384.72" y2="334.01" stroke="#5fa83c" stroke-width="0.8" />
<line x1="383.24" y1="331.45" x2="386.20" y2="333.15" stroke="#5fa83c" stroke-width="0.8" />
<line x1="383.24" y1="333.15" x2="386.20" y2="331.45" stroke="#5fa83c" stroke-width="0.8" />
<line x1="403.20" y1="334.54" x2="403.20" y2="337.95" stroke="#5fa83c" stroke-width="0.8" />
<line x1="401.72" y1="335.40" x2="404.68" y2="337.10" stroke="#5fa83c" stroke-width="0.8" />
<line x1="401.72" y1="337.10" x2="404.68" y2="335.40" stroke="#5fa83c" stroke-width="0.8" />
<line x1="421.68" y1="334.54" x2="421.68" y2="337.95" stroke="#5fa83c" stroke-width="0.8" />
<line x1="420.20" y1="335.40" x2="423.16" y2="337.10" stroke="#5fa83c" stroke-width="0.8" />
<line x1="420.20" y1="337.10" x2="423.16" y2="335.40" stroke="#5fa83c" stroke-width="0.8" />
<line x1="440.16" y1="334.54" x2="440.16" y2="337.95" stroke="#5fa83c" stroke-width="0.8" />
<line x1="438.68" y1="335.40" x2="441.64" y2="337.10" stroke="#5fa83c" stroke-width="0.8" />
<line x1="438.68" y1="337.10" x2="441.64" y2="335.40" stroke="#5fa83c" stroke-width="0.8" />
<line x1="458.64" y1="329.02" x2="458.64" y2="332.43" stroke="#5fa83c" stroke-width="0.8" />
<line x1="457.16" y1="329.87" x2="460.12" y2="331.57" stroke="#5fa83c" stroke-width="0.8" />
<line x1="457.16" y1="331.57" x2="460.12" y2="329.87" stroke="#5fa83c" stroke-width="0.8" />
<line x1="477.12" y1="302.97" x2="477.12" y2="306.38" stroke="#5fa83c" stroke-width="0.8" />
<line x1="475.64" y1="303.82" x2="478.60" y2="305.52" stroke="#5fa83c" stroke-width="0.8" />
<line x1="475.64" y1="305.52" x2="478.60" y2="303.82" stroke="#5fa83c" stroke-width="0.8" />
<line x1="495.60" y1="261.92" x2="495.60" y2="265.33" stroke="#5fa83c" stroke-width="0.8" />
<line x1="494.12" y1="262.77" x2="497.08" y2="264.48" stroke="#5fa83c" stroke-width="0.8" />
<line x1="494.12" y1="264.48" x2="497.08" y2="262.77" stroke="#5fa83c" stroke-width="0.8" />
<text x="6.90" y="410.10" font-size="11.3" fill="#262626" textLength="5.30" lengthAdjust="spacingAndGlyphs" >E</text>
<rect x="37.5" y="414.3" width="211.0" height="123.99999999999994" fill="none" stroke="#2b2b2b" stroke-width="1.2"/>
<line x1="34.20" y1="417.50" x2="37.50" y2="417.50" stroke="#2b2b2b" stroke-width="1.1" />
<text x="31.20" y="420.40" font-size="8.6" fill="#262626" text-anchor="end" textLength="9.70" lengthAdjust="spacingAndGlyphs" stroke="#262626" stroke-width="0.15">1.6</text>
<line x1="34.20" y1="432.15" x2="37.50" y2="432.15" stroke="#2b2b2b" stroke-width="1.1" />
<text x="31.20" y="435.05" font-size="8.6" fill="#262626" text-anchor="end" textLength="9.70" lengthAdjust="spacingAndGlyphs" stroke="#262626" stroke-width="0.15">1.4</text>
<line x1="34.20" y1="446.80" x2="37.50" y2="446.80" stroke="#2b2b2b" stroke-width="1.1" />
<text x="31.20" y="449.70" font-size="8.6" fill="#262626" text-anchor="end" textLength="9.70" lengthAdjust="spacingAndGlyphs" stroke="#262626" stroke-width="0.15">1.2</text>
<line x1="34.20" y1="461.45" x2="37.50" y2="461.45" stroke="#2b2b2b" stroke-width="1.1" />
<text x="31.20" y="464.35" font-size="8.6" fill="#262626" text-anchor="end" textLength="9.70" lengthAdjust="spacingAndGlyphs" stroke="#262626" stroke-width="0.15">1.0</text>
<line x1="34.20" y1="476.10" x2="37.50" y2="476.10" stroke="#2b2b2b" stroke-width="1.1" />
<text x="31.20" y="479.00" font-size="8.6" fill="#262626" text-anchor="end" textLength="9.70" lengthAdjust="spacingAndGlyphs" stroke="#262626" stroke-width="0.15">0.8</text>
<line x1="34.20" y1="490.75" x2="37.50" y2="490.75" stroke="#2b2b2b" stroke-width="1.1" />
<text x="31.20" y="493.65" font-size="8.6" fill="#262626" text-anchor="end" textLength="9.70" lengthAdjust="spacingAndGlyphs" stroke="#262626" stroke-width="0.15">0.6</text>
<line x1="34.20" y1="505.40" x2="37.50" y2="505.40" stroke="#2b2b2b" stroke-width="1.1" />
<text x="31.20" y="508.30" font-size="8.6" fill="#262626" text-anchor="end" textLength="9.70" lengthAdjust="spacingAndGlyphs" stroke="#262626" stroke-width="0.15">0.4</text>
<line x1="34.20" y1="520.05" x2="37.50" y2="520.05" stroke="#2b2b2b" stroke-width="1.1" />
<text x="31.20" y="522.95" font-size="8.6" fill="#262626" text-anchor="end" textLength="9.70" lengthAdjust="spacingAndGlyphs" stroke="#262626" stroke-width="0.15">0.2</text>
<line x1="34.20" y1="534.70" x2="37.50" y2="534.70" stroke="#2b2b2b" stroke-width="1.1" />
<text x="31.20" y="537.60" font-size="8.6" fill="#262626" text-anchor="end" textLength="9.70" lengthAdjust="spacingAndGlyphs" stroke="#262626" stroke-width="0.15">0.0</text>
<line x1="46.50" y1="538.30" x2="46.50" y2="541.70" stroke="#2b2b2b" stroke-width="0.9" />
<text x="49.30" y="548.60" font-size="8.0" fill="#262626" text-anchor="end" textLength="13.53" lengthAdjust="spacingAndGlyphs" transform="rotate(-45 49.30 548.60)" stroke="#262626" stroke-width="0.15">BAS</text>
<line x1="59.37" y1="538.30" x2="59.37" y2="541.70" stroke="#2b2b2b" stroke-width="0.9" />
<text x="62.17" y="548.60" font-size="8.0" fill="#262626" text-anchor="end" textLength="26.55" lengthAdjust="spacingAndGlyphs" transform="rotate(-45 62.17 548.60)" stroke="#262626" stroke-width="0.15">DAY1 1h</text>
<line x1="72.24" y1="538.30" x2="72.24" y2="541.70" stroke="#2b2b2b" stroke-width="0.9" />
<text x="75.04" y="548.60" font-size="8.0" fill="#262626" text-anchor="end" textLength="26.55" lengthAdjust="spacingAndGlyphs" transform="rotate(-45 75.04 548.60)" stroke="#262626" stroke-width="0.15">DAY1 6h</text>
<line x1="85.11" y1="538.30" x2="85.11" y2="541.70" stroke="#2b2b2b" stroke-width="0.9" />
<text x="87.91" y="548.60" font-size="8.0" fill="#262626" text-anchor="end" textLength="30.31" lengthAdjust="spacingAndGlyphs" transform="rotate(-45 87.91 548.60)" stroke="#262626" stroke-width="0.15">DAY1 12h</text>
<line x1="97.98" y1="538.30" x2="97.98" y2="541.70" stroke="#2b2b2b" stroke-width="0.9" />
<text x="100.78" y="548.60" font-size="8.0" fill="#262626" text-anchor="end" textLength="17.16" lengthAdjust="spacingAndGlyphs" transform="rotate(-45 100.78 548.60)" stroke="#262626" stroke-width="0.15">DAY2</text>
<line x1="110.85" y1="538.30" x2="110.85" y2="541.70" stroke="#2b2b2b" stroke-width="0.9" />
<text x="113.65" y="548.60" font-size="8.0" fill="#262626" text-anchor="end" textLength="17.16" lengthAdjust="spacingAndGlyphs" transform="rotate(-45 113.65 548.60)" stroke="#262626" stroke-width="0.15">DAY3</text>
<line x1="123.72" y1="538.30" x2="123.72" y2="541.70" stroke="#2b2b2b" stroke-width="0.9" />
<text x="126.52" y="548.60" font-size="8.0" fill="#262626" text-anchor="end" textLength="17.16" lengthAdjust="spacingAndGlyphs" transform="rotate(-45 126.52 548.60)" stroke="#262626" stroke-width="0.15">DAY5</text>
<line x1="136.59" y1="538.30" x2="136.59" y2="541.70" stroke="#2b2b2b" stroke-width="0.9" />
<text x="139.39" y="548.60" font-size="8.0" fill="#262626" text-anchor="end" textLength="17.16" lengthAdjust="spacingAndGlyphs" transform="rotate(-45 139.39 548.60)" stroke="#262626" stroke-width="0.15">DAY8</text>
<line x1="149.46" y1="538.30" x2="149.46" y2="541.70" stroke="#2b2b2b" stroke-width="0.9" />
<text x="152.26" y="548.60" font-size="8.0" fill="#262626" text-anchor="end" textLength="20.92" lengthAdjust="spacingAndGlyphs" transform="rotate(-45 152.26 548.60)" stroke="#262626" stroke-width="0.15">DAY15</text>
<line x1="162.33" y1="538.30" x2="162.33" y2="541.70" stroke="#2b2b2b" stroke-width="0.9" />
<text x="165.13" y="548.60" font-size="8.0" fill="#262626" text-anchor="end" textLength="20.92" lengthAdjust="spacingAndGlyphs" transform="rotate(-45 165.13 548.60)" stroke="#262626" stroke-width="0.15">DAY22</text>
<line x1="175.20" y1="538.30" x2="175.20" y2="541.70" stroke="#2b2b2b" stroke-width="0.9" />
<text x="178.00" y="548.60" font-size="8.0" fill="#262626" text-anchor="end" textLength="20.92" lengthAdjust="spacingAndGlyphs" transform="rotate(-45 178.00 548.60)" stroke="#262626" stroke-width="0.15">DAY29</text>
<line x1="188.07" y1="538.30" x2="188.07" y2="541.70" stroke="#2b2b2b" stroke-width="0.9" />
<text x="190.87" y="548.60" font-size="8.0" fill="#262626" text-anchor="end" textLength="20.92" lengthAdjust="spacingAndGlyphs" transform="rotate(-45 190.87 548.60)" stroke="#262626" stroke-width="0.15">DAY43</text>
<line x1="200.94" y1="538.30" x2="200.94" y2="541.70" stroke="#2b2b2b" stroke-width="0.9" />
<text x="203.74" y="548.60" font-size="8.0" fill="#262626" text-anchor="end" textLength="20.92" lengthAdjust="spacingAndGlyphs" transform="rotate(-45 203.74 548.60)" stroke="#262626" stroke-width="0.15">DAY57</text>
<line x1="213.81" y1="538.30" x2="213.81" y2="541.70" stroke="#2b2b2b" stroke-width="0.9" />
<text x="216.61" y="548.60" font-size="8.0" fill="#262626" text-anchor="end" textLength="20.92" lengthAdjust="spacingAndGlyphs" transform="rotate(-45 216.61 548.60)" stroke="#262626" stroke-width="0.15">DAY71</text>
<line x1="226.68" y1="538.30" x2="226.68" y2="541.70" stroke="#2b2b2b" stroke-width="0.9" />
<text x="229.48" y="548.60" font-size="8.0" fill="#262626" text-anchor="end" textLength="20.92" lengthAdjust="spacingAndGlyphs" transform="rotate(-45 229.48 548.60)" stroke="#262626" stroke-width="0.15">DAY85</text>
<line x1="239.55" y1="538.30" x2="239.55" y2="541.70" stroke="#2b2b2b" stroke-width="0.9" />
<text x="242.35" y="548.60" font-size="8.0" fill="#262626" text-anchor="end" textLength="14.28" lengthAdjust="spacingAndGlyphs" transform="rotate(-45 242.35 548.60)" stroke="#262626" stroke-width="0.15">EOS</text>
<text x="15.50" y="476.60" font-size="10" fill="#262626" text-anchor="middle" textLength="106.60" lengthAdjust="spacingAndGlyphs" transform="rotate(-90 15.50 476.60)" stroke="#262626" stroke-width="0.1">Ratio to baseline in free FXI</text>
<text x="134.90" y="585.70" font-size="10" fill="#262626" textLength="16.20" lengthAdjust="spacingAndGlyphs" stroke="#262626" stroke-width="0.1">Visit</text>
<line x1="56.07" y1="463.65" x2="56.07" y2="451.93" stroke="#8096b8" stroke-width="0.9" />
<line x1="53.87" y1="463.65" x2="58.27" y2="463.65" stroke="#8096b8" stroke-width="0.9" />
<line x1="53.87" y1="451.93" x2="58.27" y2="451.93" stroke="#8096b8" stroke-width="0.9" />
<line x1="68.94" y1="468.77" x2="68.94" y2="454.12" stroke="#8096b8" stroke-width="0.9" />
<line x1="66.74" y1="468.77" x2="71.14" y2="468.77" stroke="#8096b8" stroke-width="0.9" />
<line x1="66.74" y1="454.12" x2="71.14" y2="454.12" stroke="#8096b8" stroke-width="0.9" />
<line x1="94.68" y1="463.65" x2="94.68" y2="451.93" stroke="#8096b8" stroke-width="0.9" />
<line x1="92.48" y1="463.65" x2="96.88" y2="463.65" stroke="#8096b8" stroke-width="0.9" />
<line x1="92.48" y1="451.93" x2="96.88" y2="451.93" stroke="#8096b8" stroke-width="0.9" />
<line x1="107.55" y1="470.24" x2="107.55" y2="457.06" stroke="#8096b8" stroke-width="0.9" />
<line x1="105.35" y1="470.24" x2="109.75" y2="470.24" stroke="#8096b8" stroke-width="0.9" />
<line x1="105.35" y1="457.06" x2="109.75" y2="457.06" stroke="#8096b8" stroke-width="0.9" />
<line x1="120.42" y1="472.44" x2="120.42" y2="457.06" stroke="#8096b8" stroke-width="0.9" />
<line x1="118.22" y1="472.44" x2="122.62" y2="472.44" stroke="#8096b8" stroke-width="0.9" />
<line x1="118.22" y1="457.06" x2="122.62" y2="457.06" stroke="#8096b8" stroke-width="0.9" />
<line x1="133.29" y1="470.24" x2="133.29" y2="454.12" stroke="#8096b8" stroke-width="0.9" />
<line x1="131.09" y1="470.24" x2="135.49" y2="470.24" stroke="#8096b8" stroke-width="0.9" />
<line x1="131.09" y1="454.12" x2="135.49" y2="454.12" stroke="#8096b8" stroke-width="0.9" />
<line x1="146.16" y1="468.77" x2="146.16" y2="452.66" stroke="#8096b8" stroke-width="0.9" />
<line x1="143.96" y1="468.77" x2="148.36" y2="468.77" stroke="#8096b8" stroke-width="0.9" />
<line x1="143.96" y1="452.66" x2="148.36" y2="452.66" stroke="#8096b8" stroke-width="0.9" />
<line x1="159.03" y1="466.58" x2="159.03" y2="461.45" stroke="#8096b8" stroke-width="0.9" />
<line x1="156.83" y1="466.58" x2="161.23" y2="466.58" stroke="#8096b8" stroke-width="0.9" />
<line x1="156.83" y1="461.45" x2="161.23" y2="461.45" stroke="#8096b8" stroke-width="0.9" />
<line x1="171.90" y1="465.85" x2="171.90" y2="452.66" stroke="#8096b8" stroke-width="0.9" />
<line x1="169.70" y1="465.85" x2="174.10" y2="465.85" stroke="#8096b8" stroke-width="0.9" />
<line x1="169.70" y1="452.66" x2="174.10" y2="452.66" stroke="#8096b8" stroke-width="0.9" />
<line x1="184.77" y1="465.11" x2="184.77" y2="454.12" stroke="#8096b8" stroke-width="0.9" />
<line x1="182.57" y1="465.11" x2="186.97" y2="465.11" stroke="#8096b8" stroke-width="0.9" />
<line x1="182.57" y1="454.12" x2="186.97" y2="454.12" stroke="#8096b8" stroke-width="0.9" />
<line x1="197.64" y1="467.31" x2="197.64" y2="455.59" stroke="#8096b8" stroke-width="0.9" />
<line x1="195.44" y1="467.31" x2="199.84" y2="467.31" stroke="#8096b8" stroke-width="0.9" />
<line x1="195.44" y1="455.59" x2="199.84" y2="455.59" stroke="#8096b8" stroke-width="0.9" />
<line x1="210.51" y1="468.77" x2="210.51" y2="450.46" stroke="#8096b8" stroke-width="0.9" />
<line x1="208.31" y1="468.77" x2="212.71" y2="468.77" stroke="#8096b8" stroke-width="0.9" />
<line x1="208.31" y1="450.46" x2="212.71" y2="450.46" stroke="#8096b8" stroke-width="0.9" />
<line x1="223.38" y1="472.44" x2="223.38" y2="448.26" stroke="#8096b8" stroke-width="0.9" />
<line x1="221.18" y1="472.44" x2="225.58" y2="472.44" stroke="#8096b8" stroke-width="0.9" />
<line x1="221.18" y1="448.26" x2="225.58" y2="448.26" stroke="#8096b8" stroke-width="0.9" />
<line x1="236.25" y1="465.11" x2="236.25" y2="454.12" stroke="#8096b8" stroke-width="0.9" />
<line x1="234.05" y1="465.11" x2="238.45" y2="465.11" stroke="#8096b8" stroke-width="0.9" />
<line x1="234.05" y1="454.12" x2="238.45" y2="454.12" stroke="#8096b8" stroke-width="0.9" />
<line x1="57.17" y1="462.92" x2="57.17" y2="455.59" stroke="#c87585" stroke-width="0.9" />
<line x1="54.97" y1="462.92" x2="59.37" y2="462.92" stroke="#c87585" stroke-width="0.9" />
<line x1="54.97" y1="455.59" x2="59.37" y2="455.59" stroke="#c87585" stroke-width="0.9" />
<line x1="70.04" y1="468.77" x2="70.04" y2="457.79" stroke="#c87585" stroke-width="0.9" />
<line x1="67.84" y1="468.77" x2="72.24" y2="468.77" stroke="#c87585" stroke-width="0.9" />
<line x1="67.84" y1="457.79" x2="72.24" y2="457.79" stroke="#c87585" stroke-width="0.9" />
<line x1="95.78" y1="485.62" x2="95.78" y2="465.11" stroke="#c87585" stroke-width="0.9" />
<line x1="93.58" y1="485.62" x2="97.98" y2="485.62" stroke="#c87585" stroke-width="0.9" />
<line x1="93.58" y1="465.11" x2="97.98" y2="465.11" stroke="#c87585" stroke-width="0.9" />
<line x1="108.65" y1="492.95" x2="108.65" y2="470.24" stroke="#c87585" stroke-width="0.9" />
<line x1="106.45" y1="492.95" x2="110.85" y2="492.95" stroke="#c87585" stroke-width="0.9" />
<line x1="106.45" y1="470.24" x2="110.85" y2="470.24" stroke="#c87585" stroke-width="0.9" />
<line x1="121.52" y1="492.95" x2="121.52" y2="473.90" stroke="#c87585" stroke-width="0.9" />
<line x1="119.32" y1="492.95" x2="123.72" y2="492.95" stroke="#c87585" stroke-width="0.9" />
<line x1="119.32" y1="473.90" x2="123.72" y2="473.90" stroke="#c87585" stroke-width="0.9" />
<line x1="134.39" y1="485.62" x2="134.39" y2="473.90" stroke="#c87585" stroke-width="0.9" />
<line x1="132.19" y1="485.62" x2="136.59" y2="485.62" stroke="#c87585" stroke-width="0.9" />
<line x1="132.19" y1="473.90" x2="136.59" y2="473.90" stroke="#c87585" stroke-width="0.9" />
<line x1="147.26" y1="474.63" x2="147.26" y2="467.31" stroke="#c87585" stroke-width="0.9" />
<line x1="145.06" y1="474.63" x2="149.46" y2="474.63" stroke="#c87585" stroke-width="0.9" />
<line x1="145.06" y1="467.31" x2="149.46" y2="467.31" stroke="#c87585" stroke-width="0.9" />
<line x1="160.13" y1="476.10" x2="160.13" y2="465.11" stroke="#c87585" stroke-width="0.9" />
<line x1="157.93" y1="476.10" x2="162.33" y2="476.10" stroke="#c87585" stroke-width="0.9" />
<line x1="157.93" y1="465.11" x2="162.33" y2="465.11" stroke="#c87585" stroke-width="0.9" />
<line x1="173.00" y1="470.24" x2="173.00" y2="461.45" stroke="#c87585" stroke-width="0.9" />
<line x1="170.80" y1="470.24" x2="175.20" y2="470.24" stroke="#c87585" stroke-width="0.9" />
<line x1="170.80" y1="461.45" x2="175.20" y2="461.45" stroke="#c87585" stroke-width="0.9" />
<line x1="185.87" y1="468.77" x2="185.87" y2="456.32" stroke="#c87585" stroke-width="0.9" />
<line x1="183.67" y1="468.77" x2="188.07" y2="468.77" stroke="#c87585" stroke-width="0.9" />
<line x1="183.67" y1="456.32" x2="188.07" y2="456.32" stroke="#c87585" stroke-width="0.9" />
<line x1="198.74" y1="472.44" x2="198.74" y2="457.79" stroke="#c87585" stroke-width="0.9" />
<line x1="196.54" y1="472.44" x2="200.94" y2="472.44" stroke="#c87585" stroke-width="0.9" />
<line x1="196.54" y1="457.79" x2="200.94" y2="457.79" stroke="#c87585" stroke-width="0.9" />
<line x1="211.61" y1="461.45" x2="211.61" y2="445.34" stroke="#c87585" stroke-width="0.9" />
<line x1="209.41" y1="461.45" x2="213.81" y2="461.45" stroke="#c87585" stroke-width="0.9" />
<line x1="209.41" y1="445.34" x2="213.81" y2="445.34" stroke="#c87585" stroke-width="0.9" />
<line x1="224.48" y1="472.44" x2="224.48" y2="452.66" stroke="#c87585" stroke-width="0.9" />
<line x1="222.28" y1="472.44" x2="226.68" y2="472.44" stroke="#c87585" stroke-width="0.9" />
<line x1="222.28" y1="452.66" x2="226.68" y2="452.66" stroke="#c87585" stroke-width="0.9" />
<line x1="237.35" y1="472.44" x2="237.35" y2="459.25" stroke="#c87585" stroke-width="0.9" />
<line x1="235.15" y1="472.44" x2="239.55" y2="472.44" stroke="#c87585" stroke-width="0.9" />
<line x1="235.15" y1="459.25" x2="239.55" y2="459.25" stroke="#c87585" stroke-width="0.9" />
<line x1="58.57" y1="465.11" x2="58.57" y2="452.66" stroke="#7fa691" stroke-width="0.9" />
<line x1="56.37" y1="465.11" x2="60.77" y2="465.11" stroke="#7fa691" stroke-width="0.9" />
<line x1="56.37" y1="452.66" x2="60.77" y2="452.66" stroke="#7fa691" stroke-width="0.9" />
<line x1="71.44" y1="494.41" x2="71.44" y2="474.63" stroke="#7fa691" stroke-width="0.9" />
<line x1="69.24" y1="494.41" x2="73.64" y2="494.41" stroke="#7fa691" stroke-width="0.9" />
<line x1="69.24" y1="474.63" x2="73.64" y2="474.63" stroke="#7fa691" stroke-width="0.9" />
<line x1="97.18" y1="525.91" x2="97.18" y2="490.75" stroke="#7fa691" stroke-width="0.9" />
<line x1="94.98" y1="525.91" x2="99.38" y2="525.91" stroke="#7fa691" stroke-width="0.9" />
<line x1="94.98" y1="490.75" x2="99.38" y2="490.75" stroke="#7fa691" stroke-width="0.9" />
<line x1="110.05" y1="529.57" x2="110.05" y2="507.60" stroke="#7fa691" stroke-width="0.9" />
<line x1="107.85" y1="529.57" x2="112.25" y2="529.57" stroke="#7fa691" stroke-width="0.9" />
<line x1="107.85" y1="507.60" x2="112.25" y2="507.60" stroke="#7fa691" stroke-width="0.9" />
<line x1="122.92" y1="531.04" x2="122.92" y2="510.53" stroke="#7fa691" stroke-width="0.9" />
<line x1="120.72" y1="531.04" x2="125.12" y2="531.04" stroke="#7fa691" stroke-width="0.9" />
<line x1="120.72" y1="510.53" x2="125.12" y2="510.53" stroke="#7fa691" stroke-width="0.9" />
<line x1="135.79" y1="530.31" x2="135.79" y2="503.94" stroke="#7fa691" stroke-width="0.9" />
<line x1="133.59" y1="530.31" x2="137.99" y2="530.31" stroke="#7fa691" stroke-width="0.9" />
<line x1="133.59" y1="503.94" x2="137.99" y2="503.94" stroke="#7fa691" stroke-width="0.9" />
<line x1="148.66" y1="523.71" x2="148.66" y2="483.43" stroke="#7fa691" stroke-width="0.9" />
<line x1="146.46" y1="523.71" x2="150.86" y2="523.71" stroke="#7fa691" stroke-width="0.9" />
<line x1="146.46" y1="483.43" x2="150.86" y2="483.43" stroke="#7fa691" stroke-width="0.9" />
<line x1="161.53" y1="509.06" x2="161.53" y2="472.44" stroke="#7fa691" stroke-width="0.9" />
<line x1="159.33" y1="509.06" x2="163.73" y2="509.06" stroke="#7fa691" stroke-width="0.9" />
<line x1="159.33" y1="472.44" x2="163.73" y2="472.44" stroke="#7fa691" stroke-width="0.9" />
<line x1="174.40" y1="492.22" x2="174.40" y2="468.77" stroke="#7fa691" stroke-width="0.9" />
<line x1="172.20" y1="492.22" x2="176.60" y2="492.22" stroke="#7fa691" stroke-width="0.9" />
<line x1="172.20" y1="468.77" x2="176.60" y2="468.77" stroke="#7fa691" stroke-width="0.9" />
<line x1="187.27" y1="479.76" x2="187.27" y2="465.11" stroke="#7fa691" stroke-width="0.9" />
<line x1="185.07" y1="479.76" x2="189.47" y2="479.76" stroke="#7fa691" stroke-width="0.9" />
<line x1="185.07" y1="465.11" x2="189.47" y2="465.11" stroke="#7fa691" stroke-width="0.9" />
<line x1="200.14" y1="479.76" x2="200.14" y2="461.45" stroke="#7fa691" stroke-width="0.9" />
<line x1="197.94" y1="479.76" x2="202.34" y2="479.76" stroke="#7fa691" stroke-width="0.9" />
<line x1="197.94" y1="461.45" x2="202.34" y2="461.45" stroke="#7fa691" stroke-width="0.9" />
<line x1="213.01" y1="487.09" x2="213.01" y2="465.11" stroke="#7fa691" stroke-width="0.9" />
<line x1="210.81" y1="487.09" x2="215.21" y2="487.09" stroke="#7fa691" stroke-width="0.9" />
<line x1="210.81" y1="465.11" x2="215.21" y2="465.11" stroke="#7fa691" stroke-width="0.9" />
<line x1="225.88" y1="492.22" x2="225.88" y2="452.66" stroke="#7fa691" stroke-width="0.9" />
<line x1="223.68" y1="492.22" x2="228.08" y2="492.22" stroke="#7fa691" stroke-width="0.9" />
<line x1="223.68" y1="452.66" x2="228.08" y2="452.66" stroke="#7fa691" stroke-width="0.9" />
<line x1="238.75" y1="477.56" x2="238.75" y2="462.92" stroke="#7fa691" stroke-width="0.9" />
<line x1="236.55" y1="477.56" x2="240.95" y2="477.56" stroke="#7fa691" stroke-width="0.9" />
<line x1="236.55" y1="462.92" x2="240.95" y2="462.92" stroke="#7fa691" stroke-width="0.9" />
<line x1="60.17" y1="487.09" x2="60.17" y2="457.79" stroke="#b39a82" stroke-width="0.9" />
<line x1="57.97" y1="487.09" x2="62.37" y2="487.09" stroke="#b39a82" stroke-width="0.9" />
<line x1="57.97" y1="457.79" x2="62.37" y2="457.79" stroke="#b39a82" stroke-width="0.9" />
<line x1="73.04" y1="494.41" x2="73.04" y2="474.63" stroke="#b39a82" stroke-width="0.9" />
<line x1="70.84" y1="494.41" x2="75.24" y2="494.41" stroke="#b39a82" stroke-width="0.9" />
<line x1="70.84" y1="474.63" x2="75.24" y2="474.63" stroke="#b39a82" stroke-width="0.9" />
<line x1="150.26" y1="534.70" x2="150.26" y2="529.57" stroke="#b39a82" stroke-width="0.9" />
<line x1="148.06" y1="534.70" x2="152.46" y2="534.70" stroke="#b39a82" stroke-width="0.9" />
<line x1="148.06" y1="529.57" x2="152.46" y2="529.57" stroke="#b39a82" stroke-width="0.9" />
<line x1="188.87" y1="534.70" x2="188.87" y2="489.29" stroke="#b39a82" stroke-width="0.9" />
<line x1="186.67" y1="534.70" x2="191.07" y2="534.70" stroke="#b39a82" stroke-width="0.9" />
<line x1="186.67" y1="489.29" x2="191.07" y2="489.29" stroke="#b39a82" stroke-width="0.9" />
<line x1="201.74" y1="488.55" x2="201.74" y2="472.44" stroke="#b39a82" stroke-width="0.9" />
<line x1="199.54" y1="488.55" x2="203.94" y2="488.55" stroke="#b39a82" stroke-width="0.9" />
<line x1="199.54" y1="472.44" x2="203.94" y2="472.44" stroke="#b39a82" stroke-width="0.9" />
<line x1="214.61" y1="483.43" x2="214.61" y2="461.45" stroke="#b39a82" stroke-width="0.9" />
<line x1="212.41" y1="483.43" x2="216.81" y2="483.43" stroke="#b39a82" stroke-width="0.9" />
<line x1="212.41" y1="461.45" x2="216.81" y2="461.45" stroke="#b39a82" stroke-width="0.9" />
<line x1="227.48" y1="479.76" x2="227.48" y2="457.79" stroke="#b39a82" stroke-width="0.9" />
<line x1="225.28" y1="479.76" x2="229.68" y2="479.76" stroke="#b39a82" stroke-width="0.9" />
<line x1="225.28" y1="457.79" x2="229.68" y2="457.79" stroke="#b39a82" stroke-width="0.9" />
<line x1="240.35" y1="484.89" x2="240.35" y2="452.66" stroke="#b39a82" stroke-width="0.9" />
<line x1="238.15" y1="484.89" x2="242.55" y2="484.89" stroke="#b39a82" stroke-width="0.9" />
<line x1="238.15" y1="452.66" x2="242.55" y2="452.66" stroke="#b39a82" stroke-width="0.9" />
<line x1="61.17" y1="465.11" x2="61.17" y2="455.59" stroke="#9ccb82" stroke-width="0.9" />
<line x1="58.97" y1="465.11" x2="63.37" y2="465.11" stroke="#9ccb82" stroke-width="0.9" />
<line x1="58.97" y1="455.59" x2="63.37" y2="455.59" stroke="#9ccb82" stroke-width="0.9" />
<line x1="74.04" y1="498.07" x2="74.04" y2="472.44" stroke="#9ccb82" stroke-width="0.9" />
<line x1="71.84" y1="498.07" x2="76.24" y2="498.07" stroke="#9ccb82" stroke-width="0.9" />
<line x1="71.84" y1="472.44" x2="76.24" y2="472.44" stroke="#9ccb82" stroke-width="0.9" />
<line x1="86.91" y1="534.70" x2="86.91" y2="499.54" stroke="#9ccb82" stroke-width="0.9" />
<line x1="84.71" y1="534.70" x2="89.11" y2="534.70" stroke="#9ccb82" stroke-width="0.9" />
<line x1="84.71" y1="499.54" x2="89.11" y2="499.54" stroke="#9ccb82" stroke-width="0.9" />
<line x1="189.87" y1="534.70" x2="189.87" y2="501.74" stroke="#9ccb82" stroke-width="0.9" />
<line x1="187.67" y1="534.70" x2="192.07" y2="534.70" stroke="#9ccb82" stroke-width="0.9" />
<line x1="187.67" y1="501.74" x2="192.07" y2="501.74" stroke="#9ccb82" stroke-width="0.9" />
<line x1="202.74" y1="534.70" x2="202.74" y2="429.22" stroke="#9ccb82" stroke-width="0.9" />
<line x1="200.54" y1="534.70" x2="204.94" y2="534.70" stroke="#9ccb82" stroke-width="0.9" />
<line x1="200.54" y1="429.22" x2="204.94" y2="429.22" stroke="#9ccb82" stroke-width="0.9" />
<line x1="215.61" y1="494.41" x2="215.61" y2="457.79" stroke="#9ccb82" stroke-width="0.9" />
<line x1="213.41" y1="494.41" x2="217.81" y2="494.41" stroke="#9ccb82" stroke-width="0.9" />
<line x1="213.41" y1="457.79" x2="217.81" y2="457.79" stroke="#9ccb82" stroke-width="0.9" />
<line x1="228.48" y1="472.44" x2="228.48" y2="452.66" stroke="#9ccb82" stroke-width="0.9" />
<line x1="226.28" y1="472.44" x2="230.68" y2="472.44" stroke="#9ccb82" stroke-width="0.9" />
<line x1="226.28" y1="452.66" x2="230.68" y2="452.66" stroke="#9ccb82" stroke-width="0.9" />
<line x1="241.35" y1="472.44" x2="241.35" y2="452.66" stroke="#9ccb82" stroke-width="0.9" />
<line x1="239.15" y1="472.44" x2="243.55" y2="472.44" stroke="#9ccb82" stroke-width="0.9" />
<line x1="239.15" y1="452.66" x2="243.55" y2="452.66" stroke="#9ccb82" stroke-width="0.9" />
<line x1="60.87" y1="479.76" x2="60.87" y2="457.79" stroke="#ae94bb" stroke-width="0.9" />
<line x1="58.67" y1="479.76" x2="63.07" y2="479.76" stroke="#ae94bb" stroke-width="0.9" />
<line x1="58.67" y1="457.79" x2="63.07" y2="457.79" stroke="#ae94bb" stroke-width="0.9" />
<line x1="73.74" y1="525.91" x2="73.74" y2="492.22" stroke="#ae94bb" stroke-width="0.9" />
<line x1="71.54" y1="525.91" x2="75.94" y2="525.91" stroke="#ae94bb" stroke-width="0.9" />
<line x1="71.54" y1="492.22" x2="75.94" y2="492.22" stroke="#ae94bb" stroke-width="0.9" />
<line x1="86.61" y1="531.77" x2="86.61" y2="520.05" stroke="#ae94bb" stroke-width="0.9" />
<line x1="84.41" y1="531.77" x2="88.81" y2="531.77" stroke="#ae94bb" stroke-width="0.9" />
<line x1="84.41" y1="520.05" x2="88.81" y2="520.05" stroke="#ae94bb" stroke-width="0.9" />
<line x1="99.48" y1="534.70" x2="99.48" y2="531.04" stroke="#ae94bb" stroke-width="0.9" />
<line x1="97.28" y1="534.70" x2="101.68" y2="534.70" stroke="#ae94bb" stroke-width="0.9" />
<line x1="97.28" y1="531.04" x2="101.68" y2="531.04" stroke="#ae94bb" stroke-width="0.9" />
<line x1="112.35" y1="534.70" x2="112.35" y2="531.04" stroke="#ae94bb" stroke-width="0.9" />
<line x1="110.15" y1="534.70" x2="114.55" y2="534.70" stroke="#ae94bb" stroke-width="0.9" />
<line x1="110.15" y1="531.04" x2="114.55" y2="531.04" stroke="#ae94bb" stroke-width="0.9" />
<line x1="138.09" y1="534.70" x2="138.09" y2="529.57" stroke="#ae94bb" stroke-width="0.9" />
<line x1="135.89" y1="534.70" x2="140.29" y2="534.70" stroke="#ae94bb" stroke-width="0.9" />
<line x1="135.89" y1="529.57" x2="140.29" y2="529.57" stroke="#ae94bb" stroke-width="0.9" />
<line x1="150.96" y1="534.70" x2="150.96" y2="531.04" stroke="#ae94bb" stroke-width="0.9" />
<line x1="148.76" y1="534.70" x2="153.16" y2="534.70" stroke="#ae94bb" stroke-width="0.9" />
<line x1="148.76" y1="531.04" x2="153.16" y2="531.04" stroke="#ae94bb" stroke-width="0.9" />
<line x1="163.83" y1="534.70" x2="163.83" y2="531.04" stroke="#ae94bb" stroke-width="0.9" />
<line x1="161.63" y1="534.70" x2="166.03" y2="534.70" stroke="#ae94bb" stroke-width="0.9" />
<line x1="161.63" y1="531.04" x2="166.03" y2="531.04" stroke="#ae94bb" stroke-width="0.9" />
<line x1="176.70" y1="534.70" x2="176.70" y2="531.04" stroke="#ae94bb" stroke-width="0.9" />
<line x1="174.50" y1="534.70" x2="178.90" y2="534.70" stroke="#ae94bb" stroke-width="0.9" />
<line x1="174.50" y1="531.04" x2="178.90" y2="531.04" stroke="#ae94bb" stroke-width="0.9" />
<line x1="189.57" y1="534.70" x2="189.57" y2="533.24" stroke="#ae94bb" stroke-width="0.9" />
<line x1="187.37" y1="534.70" x2="191.77" y2="534.70" stroke="#ae94bb" stroke-width="0.9" />
<line x1="187.37" y1="533.24" x2="191.77" y2="533.24" stroke="#ae94bb" stroke-width="0.9" />
<line x1="202.44" y1="534.70" x2="202.44" y2="523.71" stroke="#ae94bb" stroke-width="0.9" />
<line x1="200.24" y1="534.70" x2="204.64" y2="534.70" stroke="#ae94bb" stroke-width="0.9" />
<line x1="200.24" y1="523.71" x2="204.64" y2="523.71" stroke="#ae94bb" stroke-width="0.9" />
<line x1="215.31" y1="529.57" x2="215.31" y2="501.74" stroke="#ae94bb" stroke-width="0.9" />
<line x1="213.11" y1="529.57" x2="217.51" y2="529.57" stroke="#ae94bb" stroke-width="0.9" />
<line x1="213.11" y1="501.74" x2="217.51" y2="501.74" stroke="#ae94bb" stroke-width="0.9" />
<line x1="228.18" y1="483.43" x2="228.18" y2="457.79" stroke="#ae94bb" stroke-width="0.9" />
<line x1="225.98" y1="483.43" x2="230.38" y2="483.43" stroke="#ae94bb" stroke-width="0.9" />
<line x1="225.98" y1="457.79" x2="230.38" y2="457.79" stroke="#ae94bb" stroke-width="0.9" />
<line x1="241.05" y1="461.45" x2="241.05" y2="445.34" stroke="#ae94bb" stroke-width="0.9" />
<line x1="238.85" y1="461.45" x2="243.25" y2="461.45" stroke="#ae94bb" stroke-width="0.9" />
<line x1="238.85" y1="445.34" x2="243.25" y2="445.34" stroke="#ae94bb" stroke-width="0.9" />
<polyline points="43.20,461.45 56.07,457.79 68.94,461.45 94.68,457.79 107.55,462.92 120.42,465.85 133.29,462.92 146.16,462.18 159.03,463.65 171.90,459.99 184.77,459.25 197.64,459.99 210.51,459.25 223.38,459.25 236.25,459.25" fill="none" stroke="#526b96" stroke-width="0.9" stroke-linejoin="round" />
<circle cx="43.20" cy="461.45" r="1.55" fill="none" stroke="#526b96" stroke-width="0.8"/>
<circle cx="56.07" cy="457.79" r="1.55" fill="none" stroke="#526b96" stroke-width="0.8"/>
<circle cx="68.94" cy="461.45" r="1.55" fill="none" stroke="#526b96" stroke-width="0.8"/>
<circle cx="94.68" cy="457.79" r="1.55" fill="none" stroke="#526b96" stroke-width="0.8"/>
<circle cx="107.55" cy="462.92" r="1.55" fill="none" stroke="#526b96" stroke-width="0.8"/>
<circle cx="120.42" cy="465.85" r="1.55" fill="none" stroke="#526b96" stroke-width="0.8"/>
<circle cx="133.29" cy="462.92" r="1.55" fill="none" stroke="#526b96" stroke-width="0.8"/>
<circle cx="146.16" cy="462.18" r="1.55" fill="none" stroke="#526b96" stroke-width="0.8"/>
<circle cx="159.03" cy="463.65" r="1.55" fill="none" stroke="#526b96" stroke-width="0.8"/>
<circle cx="171.90" cy="459.99" r="1.55" fill="none" stroke="#526b96" stroke-width="0.8"/>
<circle cx="184.77" cy="459.25" r="1.55" fill="none" stroke="#526b96" stroke-width="0.8"/>
<circle cx="197.64" cy="459.99" r="1.55" fill="none" stroke="#526b96" stroke-width="0.8"/>
<circle cx="210.51" cy="459.25" r="1.55" fill="none" stroke="#526b96" stroke-width="0.8"/>
<circle cx="223.38" cy="459.25" r="1.55" fill="none" stroke="#526b96" stroke-width="0.8"/>
<circle cx="236.25" cy="459.25" r="1.55" fill="none" stroke="#526b96" stroke-width="0.8"/>
<polyline points="44.30,461.45 57.17,459.25 70.04,463.65 95.78,475.37 108.65,481.96 121.52,484.16 134.39,478.30 147.26,470.97 160.13,470.24 173.00,465.85 185.87,462.18 198.74,465.11 211.61,454.12 224.48,464.38 237.35,465.85" fill="none" stroke="#a3283f" stroke-width="0.9" stroke-dasharray="3.5,1.6" stroke-linejoin="round" />
<polygon points="44.30,459.59 46.16,461.45 44.30,463.31 42.44,461.45" fill="#a3283f" stroke="#a3283f" stroke-width="0.3" />
<polygon points="57.17,457.39 59.03,459.25 57.17,461.11 55.31,459.25" fill="#a3283f" stroke="#a3283f" stroke-width="0.3" />
<polygon points="70.04,461.79 71.90,463.65 70.04,465.51 68.18,463.65" fill="#a3283f" stroke="#a3283f" stroke-width="0.3" />
<polygon points="95.78,473.51 97.64,475.37 95.78,477.23 93.92,475.37" fill="#a3283f" stroke="#a3283f" stroke-width="0.3" />
<polygon points="108.65,480.10 110.51,481.96 108.65,483.82 106.79,481.96" fill="#a3283f" stroke="#a3283f" stroke-width="0.3" />
<polygon points="121.52,482.30 123.38,484.16 121.52,486.02 119.66,484.16" fill="#a3283f" stroke="#a3283f" stroke-width="0.3" />
<polygon points="134.39,476.44 136.25,478.30 134.39,480.16 132.53,478.30" fill="#a3283f" stroke="#a3283f" stroke-width="0.3" />
<polygon points="147.26,469.11 149.12,470.97 147.26,472.83 145.40,470.97" fill="#a3283f" stroke="#a3283f" stroke-width="0.3" />
<polygon points="160.13,468.38 161.99,470.24 160.13,472.10 158.27,470.24" fill="#a3283f" stroke="#a3283f" stroke-width="0.3" />
<polygon points="173.00,463.99 174.86,465.85 173.00,467.71 171.14,465.85" fill="#a3283f" stroke="#a3283f" stroke-width="0.3" />
<polygon points="185.87,460.32 187.73,462.18 185.87,464.04 184.01,462.18" fill="#a3283f" stroke="#a3283f" stroke-width="0.3" />
<polygon points="198.74,463.25 200.60,465.11 198.74,466.97 196.88,465.11" fill="#a3283f" stroke="#a3283f" stroke-width="0.3" />
<polygon points="211.61,452.26 213.47,454.12 211.61,455.99 209.75,454.12" fill="#a3283f" stroke="#a3283f" stroke-width="0.3" />
<polygon points="224.48,462.52 226.34,464.38 224.48,466.24 222.62,464.38" fill="#a3283f" stroke="#a3283f" stroke-width="0.3" />
<polygon points="237.35,463.99 239.21,465.85 237.35,467.71 235.49,465.85" fill="#a3283f" stroke="#a3283f" stroke-width="0.3" />
<polyline points="45.70,461.45 58.57,457.79 71.44,483.43 97.18,514.92 110.05,521.51 122.92,523.71 135.79,517.85 148.66,509.06 161.53,492.22 174.40,479.03 187.27,470.97 200.14,470.97 213.01,476.83 225.88,476.10 238.75,470.97" fill="none" stroke="#3e7a5c" stroke-width="0.9" stroke-dasharray="3.5,1.3,1,1.3" stroke-linejoin="round" />
<line x1="44.15" y1="459.90" x2="47.25" y2="463.00" stroke="#3e7a5c" stroke-width="0.8" />
<line x1="44.15" y1="463.00" x2="47.25" y2="459.90" stroke="#3e7a5c" stroke-width="0.8" />
<line x1="57.02" y1="456.24" x2="60.12" y2="459.34" stroke="#3e7a5c" stroke-width="0.8" />
<line x1="57.02" y1="459.34" x2="60.12" y2="456.24" stroke="#3e7a5c" stroke-width="0.8" />
<line x1="69.89" y1="481.88" x2="72.99" y2="484.98" stroke="#3e7a5c" stroke-width="0.8" />
<line x1="69.89" y1="484.98" x2="72.99" y2="481.88" stroke="#3e7a5c" stroke-width="0.8" />
<line x1="95.63" y1="513.37" x2="98.73" y2="516.47" stroke="#3e7a5c" stroke-width="0.8" />
<line x1="95.63" y1="516.47" x2="98.73" y2="513.37" stroke="#3e7a5c" stroke-width="0.8" />
<line x1="108.50" y1="519.97" x2="111.60" y2="523.06" stroke="#3e7a5c" stroke-width="0.8" />
<line x1="108.50" y1="523.06" x2="111.60" y2="519.97" stroke="#3e7a5c" stroke-width="0.8" />
<line x1="121.37" y1="522.16" x2="124.47" y2="525.26" stroke="#3e7a5c" stroke-width="0.8" />
<line x1="121.37" y1="525.26" x2="124.47" y2="522.16" stroke="#3e7a5c" stroke-width="0.8" />
<line x1="134.24" y1="516.30" x2="137.34" y2="519.40" stroke="#3e7a5c" stroke-width="0.8" />
<line x1="134.24" y1="519.40" x2="137.34" y2="516.30" stroke="#3e7a5c" stroke-width="0.8" />
<line x1="147.11" y1="507.51" x2="150.21" y2="510.61" stroke="#3e7a5c" stroke-width="0.8" />
<line x1="147.11" y1="510.61" x2="150.21" y2="507.51" stroke="#3e7a5c" stroke-width="0.8" />
<line x1="159.98" y1="490.67" x2="163.08" y2="493.77" stroke="#3e7a5c" stroke-width="0.8" />
<line x1="159.98" y1="493.77" x2="163.08" y2="490.67" stroke="#3e7a5c" stroke-width="0.8" />
<line x1="172.85" y1="477.48" x2="175.95" y2="480.58" stroke="#3e7a5c" stroke-width="0.8" />
<line x1="172.85" y1="480.58" x2="175.95" y2="477.48" stroke="#3e7a5c" stroke-width="0.8" />
<line x1="185.72" y1="469.42" x2="188.82" y2="472.52" stroke="#3e7a5c" stroke-width="0.8" />
<line x1="185.72" y1="472.52" x2="188.82" y2="469.42" stroke="#3e7a5c" stroke-width="0.8" />
<line x1="198.59" y1="469.42" x2="201.69" y2="472.52" stroke="#3e7a5c" stroke-width="0.8" />
<line x1="198.59" y1="472.52" x2="201.69" y2="469.42" stroke="#3e7a5c" stroke-width="0.8" />
<line x1="211.46" y1="475.28" x2="214.56" y2="478.38" stroke="#3e7a5c" stroke-width="0.8" />
<line x1="211.46" y1="478.38" x2="214.56" y2="475.28" stroke="#3e7a5c" stroke-width="0.8" />
<line x1="224.33" y1="474.55" x2="227.43" y2="477.65" stroke="#3e7a5c" stroke-width="0.8" />
<line x1="224.33" y1="477.65" x2="227.43" y2="474.55" stroke="#3e7a5c" stroke-width="0.8" />
<line x1="237.20" y1="469.42" x2="240.30" y2="472.52" stroke="#3e7a5c" stroke-width="0.8" />
<line x1="237.20" y1="472.52" x2="240.30" y2="469.42" stroke="#3e7a5c" stroke-width="0.8" />
<polyline points="47.30,461.45 60.17,473.17 73.04,484.89 98.78,533.24 111.65,533.24 124.52,533.24 137.39,533.24 150.26,533.24 163.13,533.24 176.00,533.24 188.87,514.92 201.74,481.23 214.61,470.97 227.48,468.77 240.35,468.77" fill="none" stroke="#8a6646" stroke-width="0.9" stroke-dasharray="5,1.6" stroke-linejoin="round" />
<polygon points="47.30,460.06 49.16,463.08 45.44,463.08" fill="none" stroke="#8a6646" stroke-width="0.8" />
<polygon points="60.17,471.78 62.03,474.80 58.31,474.80" fill="none" stroke="#8a6646" stroke-width="0.8" />
<polygon points="73.04,483.50 74.90,486.52 71.18,486.52" fill="none" stroke="#8a6646" stroke-width="0.8" />
<polygon points="98.78,531.84 100.64,534.86 96.92,534.86" fill="none" stroke="#8a6646" stroke-width="0.8" />
<polygon points="111.65,531.84 113.51,534.86 109.79,534.86" fill="none" stroke="#8a6646" stroke-width="0.8" />
<polygon points="124.52,531.84 126.38,534.86 122.66,534.86" fill="none" stroke="#8a6646" stroke-width="0.8" />
<polygon points="137.39,531.84 139.25,534.86 135.53,534.86" fill="none" stroke="#8a6646" stroke-width="0.8" />
<polygon points="150.26,531.84 152.12,534.86 148.40,534.86" fill="none" stroke="#8a6646" stroke-width="0.8" />
<polygon points="163.13,531.84 164.99,534.86 161.27,534.86" fill="none" stroke="#8a6646" stroke-width="0.8" />
<polygon points="176.00,531.84 177.86,534.86 174.14,534.86" fill="none" stroke="#8a6646" stroke-width="0.8" />
<polygon points="188.87,513.53 190.73,516.55 187.01,516.55" fill="none" stroke="#8a6646" stroke-width="0.8" />
<polygon points="201.74,479.83 203.60,482.86 199.88,482.86" fill="none" stroke="#8a6646" stroke-width="0.8" />
<polygon points="214.61,469.58 216.47,472.60 212.75,472.60" fill="none" stroke="#8a6646" stroke-width="0.8" />
<polygon points="227.48,467.38 229.34,470.40 225.62,470.40" fill="none" stroke="#8a6646" stroke-width="0.8" />
<polygon points="240.35,467.38 242.21,470.40 238.49,470.40" fill="none" stroke="#8a6646" stroke-width="0.8" />
<polyline points="48.30,461.45 61.17,459.25 74.04,483.43 86.91,522.25 99.78,533.24 112.65,533.24 125.52,533.24 138.39,533.24 151.26,533.24 164.13,533.24 177.00,533.24 189.87,525.91 202.74,502.47 215.61,475.37 228.48,459.99 241.35,464.38" fill="none" stroke="#5fa83c" stroke-width="0.9" stroke-dasharray="3.5,1.6" stroke-linejoin="round" />
<line x1="48.30" y1="459.75" x2="48.30" y2="463.15" stroke="#5fa83c" stroke-width="0.8" />
<line x1="46.82" y1="460.60" x2="49.78" y2="462.30" stroke="#5fa83c" stroke-width="0.8" />
<line x1="46.82" y1="462.30" x2="49.78" y2="460.60" stroke="#5fa83c" stroke-width="0.8" />
<line x1="61.17" y1="457.55" x2="61.17" y2="460.96" stroke="#5fa83c" stroke-width="0.8" />
<line x1="59.69" y1="458.40" x2="62.65" y2="460.11" stroke="#5fa83c" stroke-width="0.8" />
<line x1="59.69" y1="460.11" x2="62.65" y2="458.40" stroke="#5fa83c" stroke-width="0.8" />
<line x1="74.04" y1="481.72" x2="74.04" y2="485.13" stroke="#5fa83c" stroke-width="0.8" />
<line x1="72.56" y1="482.57" x2="75.52" y2="484.28" stroke="#5fa83c" stroke-width="0.8" />
<line x1="72.56" y1="484.28" x2="75.52" y2="482.57" stroke="#5fa83c" stroke-width="0.8" />
<line x1="86.91" y1="520.54" x2="86.91" y2="523.95" stroke="#5fa83c" stroke-width="0.8" />
<line x1="85.43" y1="521.40" x2="88.39" y2="523.10" stroke="#5fa83c" stroke-width="0.8" />
<line x1="85.43" y1="523.10" x2="88.39" y2="521.40" stroke="#5fa83c" stroke-width="0.8" />
<line x1="99.78" y1="531.53" x2="99.78" y2="534.94" stroke="#5fa83c" stroke-width="0.8" />
<line x1="98.30" y1="532.38" x2="101.26" y2="534.09" stroke="#5fa83c" stroke-width="0.8" />
<line x1="98.30" y1="534.09" x2="101.26" y2="532.38" stroke="#5fa83c" stroke-width="0.8" />
<line x1="112.65" y1="531.53" x2="112.65" y2="534.94" stroke="#5fa83c" stroke-width="0.8" />
<line x1="111.17" y1="532.38" x2="114.13" y2="534.09" stroke="#5fa83c" stroke-width="0.8" />
<line x1="111.17" y1="534.09" x2="114.13" y2="532.38" stroke="#5fa83c" stroke-width="0.8" />
<line x1="125.52" y1="531.53" x2="125.52" y2="534.94" stroke="#5fa83c" stroke-width="0.8" />
<line x1="124.04" y1="532.38" x2="127.00" y2="534.09" stroke="#5fa83c" stroke-width="0.8" />
<line x1="124.04" y1="534.09" x2="127.00" y2="532.38" stroke="#5fa83c" stroke-width="0.8" />
<line x1="138.39" y1="531.53" x2="138.39" y2="534.94" stroke="#5fa83c" stroke-width="0.8" />
<line x1="136.91" y1="532.38" x2="139.87" y2="534.09" stroke="#5fa83c" stroke-width="0.8" />
<line x1="136.91" y1="534.09" x2="139.87" y2="532.38" stroke="#5fa83c" stroke-width="0.8" />
<line x1="151.26" y1="531.53" x2="151.26" y2="534.94" stroke="#5fa83c" stroke-width="0.8" />
<line x1="149.78" y1="532.38" x2="152.74" y2="534.09" stroke="#5fa83c" stroke-width="0.8" />
<line x1="149.78" y1="534.09" x2="152.74" y2="532.38" stroke="#5fa83c" stroke-width="0.8" />
<line x1="164.13" y1="531.53" x2="164.13" y2="534.94" stroke="#5fa83c" stroke-width="0.8" />
<line x1="162.65" y1="532.38" x2="165.61" y2="534.09" stroke="#5fa83c" stroke-width="0.8" />
<line x1="162.65" y1="534.09" x2="165.61" y2="532.38" stroke="#5fa83c" stroke-width="0.8" />
<line x1="177.00" y1="531.53" x2="177.00" y2="534.94" stroke="#5fa83c" stroke-width="0.8" />
<line x1="175.52" y1="532.38" x2="178.48" y2="534.09" stroke="#5fa83c" stroke-width="0.8" />
<line x1="175.52" y1="534.09" x2="178.48" y2="532.38" stroke="#5fa83c" stroke-width="0.8" />
<line x1="189.87" y1="524.20" x2="189.87" y2="527.62" stroke="#5fa83c" stroke-width="0.8" />
<line x1="188.39" y1="525.06" x2="191.35" y2="526.76" stroke="#5fa83c" stroke-width="0.8" />
<line x1="188.39" y1="526.76" x2="191.35" y2="525.06" stroke="#5fa83c" stroke-width="0.8" />
<line x1="202.74" y1="500.77" x2="202.74" y2="504.18" stroke="#5fa83c" stroke-width="0.8" />
<line x1="201.26" y1="501.62" x2="204.22" y2="503.32" stroke="#5fa83c" stroke-width="0.8" />
<line x1="201.26" y1="503.32" x2="204.22" y2="501.62" stroke="#5fa83c" stroke-width="0.8" />
<line x1="215.61" y1="473.66" x2="215.61" y2="477.07" stroke="#5fa83c" stroke-width="0.8" />
<line x1="214.13" y1="474.51" x2="217.09" y2="476.22" stroke="#5fa83c" stroke-width="0.8" />
<line x1="214.13" y1="476.22" x2="217.09" y2="474.51" stroke="#5fa83c" stroke-width="0.8" />
<line x1="228.48" y1="458.28" x2="228.48" y2="461.69" stroke="#5fa83c" stroke-width="0.8" />
<line x1="227.00" y1="459.13" x2="229.96" y2="460.84" stroke="#5fa83c" stroke-width="0.8" />
<line x1="227.00" y1="460.84" x2="229.96" y2="459.13" stroke="#5fa83c" stroke-width="0.8" />
<line x1="241.35" y1="462.68" x2="241.35" y2="466.08" stroke="#5fa83c" stroke-width="0.8" />
<line x1="239.87" y1="463.53" x2="242.83" y2="465.23" stroke="#5fa83c" stroke-width="0.8" />
<line x1="239.87" y1="465.23" x2="242.83" y2="463.53" stroke="#5fa83c" stroke-width="0.8" />
<polyline points="48.00,461.45 60.87,470.24 73.74,509.06 86.61,528.84 99.48,533.24 112.35,533.24 125.22,533.24 138.09,532.50 150.96,533.24 163.83,533.24 176.70,533.24 189.57,534.70 202.44,533.97 215.31,517.12 228.18,469.51 241.05,451.93" fill="none" stroke="#7a5585" stroke-width="0.9" stroke-dasharray="4.5,1.3,1,1.3" stroke-linejoin="round" />
<rect x="46.45" y="459.90" width="3.10" height="3.10" fill="none" stroke="#7a5585" stroke-width="0.8"/>
<rect x="59.32" y="468.69" width="3.10" height="3.10" fill="none" stroke="#7a5585" stroke-width="0.8"/>
<rect x="72.19" y="507.51" width="3.10" height="3.10" fill="none" stroke="#7a5585" stroke-width="0.8"/>
<rect x="85.06" y="527.29" width="3.10" height="3.10" fill="none" stroke="#7a5585" stroke-width="0.8"/>
<rect x="97.93" y="531.69" width="3.10" height="3.10" fill="none" stroke="#7a5585" stroke-width="0.8"/>
<rect x="110.80" y="531.69" width="3.10" height="3.10" fill="none" stroke="#7a5585" stroke-width="0.8"/>
<rect x="123.67" y="531.69" width="3.10" height="3.10" fill="none" stroke="#7a5585" stroke-width="0.8"/>
<rect x="136.54" y="530.95" width="3.10" height="3.10" fill="none" stroke="#7a5585" stroke-width="0.8"/>
<rect x="149.41" y="531.69" width="3.10" height="3.10" fill="none" stroke="#7a5585" stroke-width="0.8"/>
<rect x="162.28" y="531.69" width="3.10" height="3.10" fill="none" stroke="#7a5585" stroke-width="0.8"/>
<rect x="175.15" y="531.69" width="3.10" height="3.10" fill="none" stroke="#7a5585" stroke-width="0.8"/>
<rect x="188.02" y="533.15" width="3.10" height="3.10" fill="none" stroke="#7a5585" stroke-width="0.8"/>
<rect x="200.89" y="532.42" width="3.10" height="3.10" fill="none" stroke="#7a5585" stroke-width="0.8"/>
<rect x="213.76" y="515.57" width="3.10" height="3.10" fill="none" stroke="#7a5585" stroke-width="0.8"/>
<rect x="226.63" y="467.96" width="3.10" height="3.10" fill="none" stroke="#7a5585" stroke-width="0.8"/>
<rect x="239.50" y="450.38" width="3.10" height="3.10" fill="none" stroke="#7a5585" stroke-width="0.8"/>
<polygon points="267.60,445.34 271.56,449.30 267.60,453.26 263.64,449.30" fill="none" stroke="#5b9bd5" stroke-width="0.9" />
<text x="273.90" y="451.80" font-size="8.0" fill="#262626" textLength="63.50" lengthAdjust="spacingAndGlyphs" stroke="#262626" stroke-width="0.15">Placebo (aPTT, FXI:C)</text>
<circle cx="267.60" cy="463.37" r="3.30" fill="none" stroke="#526b96" stroke-width="0.9"/>
<text x="273.90" y="465.87" font-size="8.0" fill="#262626" textLength="43.10" lengthAdjust="spacingAndGlyphs" stroke="#262626" stroke-width="0.15">MAA868 5 mg</text>
<polygon points="267.60,473.48 271.56,477.44 267.60,481.40 263.64,477.44" fill="#a3283f" stroke="#a3283f" stroke-width="0.3" />
<text x="274.60" y="479.94" font-size="8.0" fill="#262626" textLength="47.00" lengthAdjust="spacingAndGlyphs" stroke="#262626" stroke-width="0.15">MAA868 15 mg</text>
<line x1="264.30" y1="488.21" x2="270.90" y2="494.81" stroke="#3e7a5c" stroke-width="0.9" />
<line x1="264.30" y1="494.81" x2="270.90" y2="488.21" stroke="#3e7a5c" stroke-width="0.9" />
<text x="273.90" y="494.01" font-size="8.0" fill="#262626" textLength="47.10" lengthAdjust="spacingAndGlyphs" stroke="#262626" stroke-width="0.15">MAA868 50 mg</text>
<polygon points="267.60,502.61 271.56,509.05 263.64,509.05" fill="none" stroke="#8a6646" stroke-width="0.9" />
<text x="274.60" y="508.08" font-size="8.0" fill="#262626" textLength="50.70" lengthAdjust="spacingAndGlyphs" stroke="#262626" stroke-width="0.15">MAA868 150 mg</text>
<rect x="264.30" y="516.35" width="6.60" height="6.60" fill="none" stroke="#8e6b9b" stroke-width="0.9"/>
<text x="273.90" y="522.15" font-size="8.0" fill="#262626" textLength="51.10" lengthAdjust="spacingAndGlyphs" stroke="#262626" stroke-width="0.15">MAA868 240 mg</text>
<line x1="267.60" y1="530.09" x2="267.60" y2="537.35" stroke="#5fa83c" stroke-width="0.9" />
<line x1="264.46" y1="531.90" x2="270.74" y2="535.54" stroke="#5fa83c" stroke-width="0.9" />
<line x1="264.46" y1="535.54" x2="270.74" y2="531.90" stroke="#5fa83c" stroke-width="0.9" />
<text x="273.90" y="536.22" font-size="8.0" fill="#262626" textLength="75.90" lengthAdjust="spacingAndGlyphs" stroke="#262626" stroke-width="0.15">MAA868 240 mg (obese)</text>
<rect x="518" y="0" width="1" height="595" fill="#8a8a8a"/>
<rect x="519" y="0" width="1" height="595" fill="#444"/>
<rect x="0" y="0" width="520" height="1" fill="#111"/>
<rect x="0" y="1" width="519" height="0.3" fill="#999"/>
<rect x="0" y="0" width="1" height="595" fill="#111"/>
<rect x="0" y="593" width="520" height="1" fill="#bbbbbb"/>
<rect x="0" y="594" width="520" height="1" fill="#0a0a0a"/>
</svg></body></html>
